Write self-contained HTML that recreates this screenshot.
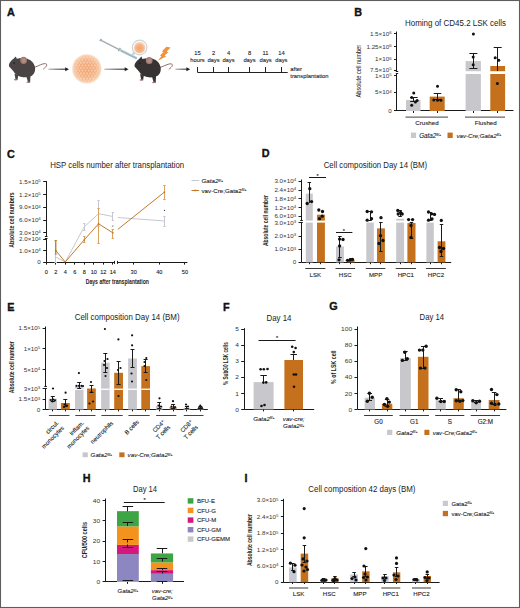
<!DOCTYPE html>
<html><head><meta charset="utf-8"><style>
html,body{margin:0;padding:0;background:#fff;width:520px;height:608px;overflow:hidden;}
svg{display:block;}
text{font-family:"Liberation Sans",sans-serif;}
</style></head><body>
<svg width="520" height="608" viewBox="0 0 520 608">
<rect x="0" y="0" width="520" height="608" fill="#fff"/>
<text x="7.00" y="15.80" font-family="Liberation Sans" font-size="10.8" text-anchor="start" font-weight="bold" font-style="normal" fill="#111" stroke="#111" stroke-width="0.35">A</text>
<g transform="translate(8.9,64.7) scale(1.0)"><path d="M24,3.2 C28,1.8 31,0.2 33.5,-0.6 C36,-1.4 38.2,-1.4 37.8,0.6 C37.5,2 36,3 34.6,4.3" stroke="#8a6f68" stroke-width="1.0" fill="none" stroke-linecap="round"/><path d="M5.6,9 L6.6,14.6 L5.2,15.3 L8.6,15.3 L9.4,10 Z" fill="#4b4444"/><path d="M17.2,10.5 L19,17.2 L17.6,17.9 L21.2,17.9 L21.6,10 Z" fill="#4b4444"/><ellipse cx="6.9" cy="15.0" rx="1.9" ry="0.7" fill="#9e7c72"/><ellipse cx="19.4" cy="17.6" rx="1.9" ry="0.7" fill="#9e7c72"/><path d="M0,0 C0.6,-2.2 2.4,-4.6 4.6,-6.0 L6.9,-8.3 L7.9,-5.9 C10.5,-6.6 14,-6.8 17,-6.3 C21,-5.6 24.5,-3 25.9,1.5 C27,5.5 25.5,9.5 22.5,11.2 C19,13 13,12.8 9.5,11.2 C7.5,10.3 5.8,8.5 4.5,6.6 C3.2,4.8 1.4,3.2 0.2,1.8 Z" fill="#4b4444"/><circle cx="5.2" cy="-1.6" r="0.8" fill="#1e1a1a"/><ellipse cx="14.7" cy="-4.4" rx="3.4" ry="3.6" fill="#9e7c72"/><ellipse cx="14.9" cy="-4.1" rx="2.0" ry="2.3" fill="#b38d84"/></g>
<defs><linearGradient id="ag1" gradientUnits="userSpaceOnUse" x1="48.5" y1="0" x2="69" y2="0"><stop offset="0" stop-color="#b0b0b0"/><stop offset="0.5" stop-color="#555"/><stop offset="1" stop-color="#222"/></linearGradient></defs>
<rect x="48.5" y="68.65" width="17.5" height="1.1" fill="url(#ag1)"/>
<path d="M65.2,67.2 L69,69.2 L65.2,71.2 Z" fill="#222"/>
<defs>
<radialGradient id="cb" cx="0.5" cy="0.5" r="0.5">
<stop offset="0" stop-color="#ee9c66"/><stop offset="0.6" stop-color="#f2ab7c"/><stop offset="0.85" stop-color="#f6c39e"/><stop offset="1" stop-color="#fbe2cf"/>
</radialGradient>
<pattern id="cells" x="0.3" y="0.4" width="3.1" height="5.3" patternUnits="userSpaceOnUse">
<circle cx="1.55" cy="1.3" r="1.05" fill="#fcd9bf" opacity="0.75"/>
<circle cx="0" cy="3.95" r="1.05" fill="#fcd9bf" opacity="0.75"/>
<circle cx="3.1" cy="3.95" r="1.05" fill="#fcd9bf" opacity="0.75"/>
</pattern>
</defs>
<circle cx="86.8" cy="68.9" r="14.6" fill="url(#cb)"/>
<circle cx="86.8" cy="68.9" r="13.8" fill="url(#cells)"/>
<defs><linearGradient id="ag2" gradientUnits="userSpaceOnUse" x1="104.4" y1="0" x2="128.5" y2="0"><stop offset="0" stop-color="#b0b0b0"/><stop offset="0.5" stop-color="#555"/><stop offset="1" stop-color="#222"/></linearGradient></defs>
<rect x="104.4" y="68.65" width="21.099999999999994" height="1.1" fill="url(#ag2)"/>
<path d="M124.7,67.2 L128.5,69.2 L124.7,71.2 Z" fill="#222"/>
<line x1="100.60" y1="40.20" x2="119.30" y2="49.60" stroke="#a3acb4" stroke-width="1.4" stroke-linecap="round"/>
<line x1="100.00" y1="41.20" x2="101.40" y2="38.80" stroke="#a3acb4" stroke-width="1.6" />
<line x1="118.40" y1="51.20" x2="120.40" y2="47.80" stroke="#98a4ae" stroke-width="1.3" />
<line x1="119.30" y1="49.60" x2="136.80" y2="58.40" stroke="#b9c8cf" stroke-width="2.6" />
<line x1="121.00" y1="50.80" x2="136.80" y2="58.60" stroke="#8fb0bd" stroke-width="0.9" />
<defs><radialGradient id="mg" cx="0.5" cy="0.55" r="0.5"><stop offset="0" stop-color="#f5a268"/><stop offset="0.7" stop-color="#f7b88c"/><stop offset="1" stop-color="#fbd9c0"/></radialGradient></defs>
<path d="M133.2,51.6 L131.6,55.6 L136.4,53.6 Z" fill="#b9d3dc"/>
<circle cx="139.6" cy="47.5" r="7.3" fill="#fdfcfb" stroke="#cfd5d9" stroke-width="1.2"/>
<circle cx="139.6" cy="47.6" r="5.8" fill="url(#mg)"/>
<g transform="translate(134.5,64.9) scale(1.0)"><path d="M24,3.2 C28,1.8 31,0.2 33.5,-0.6 C36,-1.4 38.2,-1.4 37.8,0.6 C37.5,2 36,3 34.6,4.3" stroke="#94706c" stroke-width="1.0" fill="none" stroke-linecap="round"/><path d="M5.6,9 L6.6,14.6 L5.2,15.3 L8.6,15.3 L9.4,10 Z" fill="#373333"/><path d="M17.2,10.5 L19,17.2 L17.6,17.9 L21.2,17.9 L21.6,10 Z" fill="#373333"/><ellipse cx="6.9" cy="15.0" rx="1.9" ry="0.7" fill="#a67b78"/><ellipse cx="19.4" cy="17.6" rx="1.9" ry="0.7" fill="#a67b78"/><path d="M0,0 C0.6,-2.2 2.4,-4.6 4.6,-6.0 L6.9,-8.3 L7.9,-5.9 C10.5,-6.6 14,-6.8 17,-6.3 C21,-5.6 24.5,-3 25.9,1.5 C27,5.5 25.5,9.5 22.5,11.2 C19,13 13,12.8 9.5,11.2 C7.5,10.3 5.8,8.5 4.5,6.6 C3.2,4.8 1.4,3.2 0.2,1.8 Z" fill="#373333"/><circle cx="5.2" cy="-1.6" r="0.8" fill="#1e1a1a"/><ellipse cx="14.7" cy="-4.4" rx="3.4" ry="3.6" fill="#a67b78"/><ellipse cx="14.9" cy="-4.1" rx="2.0" ry="2.3" fill="#b38d84"/></g>
<path d="M166.5,46.8 L170.6,47.6 L166.6,51.7 L168.4,52.3 L164.6,55.6 L166.2,56.4 L157.8,60.7 L161.4,56.2 L160.0,55.5 L163.5,52.0 L161.9,51.3 Z" fill="#f0923a"/>
<defs><linearGradient id="ag3" gradientUnits="userSpaceOnUse" x1="175.4" y1="0" x2="190.2" y2="0"><stop offset="0" stop-color="#b0b0b0"/><stop offset="0.5" stop-color="#555"/><stop offset="1" stop-color="#222"/></linearGradient></defs>
<rect x="175.4" y="68.65" width="11.799999999999983" height="1.1" fill="url(#ag3)"/>
<path d="M186.39999999999998,67.2 L190.2,69.2 L186.39999999999998,71.2 Z" fill="#222"/>
<line x1="197.50" y1="72.50" x2="287.70" y2="72.50" stroke="#222" stroke-width="1.0" />
<line x1="197.50" y1="67.00" x2="197.50" y2="72.30" stroke="#222" stroke-width="1.0" />
<text x="197.50" y="54.60" font-family="Liberation Sans" font-size="5.8" text-anchor="middle" font-weight="normal" font-style="normal" fill="#222"  stroke="#222" stroke-width="0.1">15</text>
<text x="197.50" y="61.90" font-family="Liberation Sans" font-size="5.8" text-anchor="middle" font-weight="normal" font-style="normal" fill="#222"  stroke="#222" stroke-width="0.1">hours</text>
<line x1="213.50" y1="67.00" x2="213.50" y2="72.30" stroke="#222" stroke-width="1.0" />
<text x="213.50" y="54.60" font-family="Liberation Sans" font-size="5.8" text-anchor="middle" font-weight="normal" font-style="normal" fill="#222"  stroke="#222" stroke-width="0.1">2</text>
<text x="213.50" y="61.90" font-family="Liberation Sans" font-size="5.8" text-anchor="middle" font-weight="normal" font-style="normal" fill="#222"  stroke="#222" stroke-width="0.1">days</text>
<line x1="228.50" y1="67.00" x2="228.50" y2="72.30" stroke="#222" stroke-width="1.0" />
<text x="228.50" y="54.60" font-family="Liberation Sans" font-size="5.8" text-anchor="middle" font-weight="normal" font-style="normal" fill="#222"  stroke="#222" stroke-width="0.1">4</text>
<text x="228.50" y="61.90" font-family="Liberation Sans" font-size="5.8" text-anchor="middle" font-weight="normal" font-style="normal" fill="#222"  stroke="#222" stroke-width="0.1">days</text>
<line x1="249.50" y1="67.00" x2="249.50" y2="72.30" stroke="#222" stroke-width="1.0" />
<text x="249.50" y="54.60" font-family="Liberation Sans" font-size="5.8" text-anchor="middle" font-weight="normal" font-style="normal" fill="#222"  stroke="#222" stroke-width="0.1">8</text>
<text x="249.50" y="61.90" font-family="Liberation Sans" font-size="5.8" text-anchor="middle" font-weight="normal" font-style="normal" fill="#222"  stroke="#222" stroke-width="0.1">days</text>
<line x1="265.50" y1="67.00" x2="265.50" y2="72.30" stroke="#222" stroke-width="1.0" />
<text x="265.60" y="54.60" font-family="Liberation Sans" font-size="5.8" text-anchor="middle" font-weight="normal" font-style="normal" fill="#222"  stroke="#222" stroke-width="0.1">11</text>
<text x="265.60" y="61.90" font-family="Liberation Sans" font-size="5.8" text-anchor="middle" font-weight="normal" font-style="normal" fill="#222"  stroke="#222" stroke-width="0.1">days</text>
<line x1="281.50" y1="67.00" x2="281.50" y2="72.30" stroke="#222" stroke-width="1.0" />
<text x="281.40" y="54.60" font-family="Liberation Sans" font-size="5.8" text-anchor="middle" font-weight="normal" font-style="normal" fill="#222"  stroke="#222" stroke-width="0.1">14</text>
<text x="281.40" y="61.90" font-family="Liberation Sans" font-size="5.8" text-anchor="middle" font-weight="normal" font-style="normal" fill="#222"  stroke="#222" stroke-width="0.1">days</text>
<text x="290.30" y="71.20" font-family="Liberation Sans" font-size="5.9" text-anchor="start" font-weight="normal" font-style="normal" fill="#222"  stroke="#222" stroke-width="0.1">after</text>
<text x="290.30" y="78.30" font-family="Liberation Sans" font-size="5.9" text-anchor="start" font-weight="normal" font-style="normal" fill="#222" textLength="38.3" lengthAdjust="spacingAndGlyphs"  stroke="#222" stroke-width="0.1">transplantation</text>
<text x="354.30" y="15.90" font-family="Liberation Sans" font-size="10.8" text-anchor="start" font-weight="bold" font-style="normal" fill="#111" stroke="#111" stroke-width="0.35">B</text>
<text x="405.00" y="25.70" font-family="Liberation Sans" font-size="8.5" text-anchor="start" font-weight="normal" font-style="normal" fill="#222" textLength="101" lengthAdjust="spacingAndGlyphs" >Homing of CD45.2 LSK cells</text>
<line x1="396.50" y1="31.50" x2="396.50" y2="71.60" stroke="#1a1a1a" stroke-width="1.0" />
<line x1="395.80" y1="71.50" x2="398.20" y2="71.50" stroke="#1a1a1a" stroke-width="1.0" />
<line x1="395.80" y1="73.50" x2="398.20" y2="73.50" stroke="#1a1a1a" stroke-width="1.0" />
<line x1="396.50" y1="73.80" x2="396.50" y2="111.00" stroke="#1a1a1a" stroke-width="1.0" />
<line x1="397.00" y1="110.50" x2="513.50" y2="110.50" stroke="#1a1a1a" stroke-width="1.0" />
<line x1="394.00" y1="33.50" x2="397.00" y2="33.50" stroke="#1a1a1a" stroke-width="1.0" />
<text x="0" y="0" transform="translate(391.60,35.71) scale(1.18,1)" font-family="Liberation Sans" font-size="5.3" text-anchor="end" font-weight="normal" font-style="normal" fill="#333" stroke="none">1.5×10<tspan dy="-0.45em" font-size="0.7em">6</tspan></text>
<line x1="394.00" y1="46.50" x2="397.00" y2="46.50" stroke="#1a1a1a" stroke-width="1.0" />
<text x="0" y="0" transform="translate(391.60,48.71) scale(1.18,1)" font-family="Liberation Sans" font-size="5.3" text-anchor="end" font-weight="normal" font-style="normal" fill="#333" stroke="none">1.25×10<tspan dy="-0.45em" font-size="0.7em">6</tspan></text>
<line x1="394.00" y1="59.50" x2="397.00" y2="59.50" stroke="#1a1a1a" stroke-width="1.0" />
<text x="0" y="0" transform="translate(391.60,61.31) scale(1.18,1)" font-family="Liberation Sans" font-size="5.3" text-anchor="end" font-weight="normal" font-style="normal" fill="#333" stroke="none">1×10<tspan dy="-0.45em" font-size="0.7em">6</tspan></text>
<line x1="394.00" y1="70.50" x2="397.00" y2="70.50" stroke="#1a1a1a" stroke-width="1.0" />
<text x="0" y="0" transform="translate(391.60,71.91) scale(1.18,1)" font-family="Liberation Sans" font-size="5.3" text-anchor="end" font-weight="normal" font-style="normal" fill="#333" stroke="none">7.5×10<tspan dy="-0.45em" font-size="0.7em">5</tspan></text>
<line x1="394.00" y1="75.50" x2="397.00" y2="75.50" stroke="#1a1a1a" stroke-width="1.0" />
<text x="0" y="0" transform="translate(391.60,77.51) scale(1.18,1)" font-family="Liberation Sans" font-size="5.3" text-anchor="end" font-weight="normal" font-style="normal" fill="#333" stroke="none">1×10<tspan dy="-0.45em" font-size="0.7em">5</tspan></text>
<line x1="394.00" y1="92.50" x2="397.00" y2="92.50" stroke="#1a1a1a" stroke-width="1.0" />
<text x="0" y="0" transform="translate(391.60,94.31) scale(1.18,1)" font-family="Liberation Sans" font-size="5.3" text-anchor="end" font-weight="normal" font-style="normal" fill="#333" stroke="none">5×10<tspan dy="-0.45em" font-size="0.7em">4</tspan></text>
<line x1="394.00" y1="110.50" x2="397.00" y2="110.50" stroke="#1a1a1a" stroke-width="1.0" />
<text x="0" y="0" transform="translate(391.60,112.91) scale(1.18,1)" font-family="Liberation Sans" font-size="5.3" text-anchor="end" font-weight="normal" font-style="normal" fill="#333" stroke="none">0</text>
<text x="0" y="0" transform="translate(358.7,71.2) rotate(-90) scale(1.0,1)" font-family="Liberation Sans" font-size="6.6" text-anchor="middle" font-weight="normal" fill="#222" textLength="52.5" lengthAdjust="spacingAndGlyphs" dy="0.35em">Absolute cell number</text>
<rect x="406.00" y="100.00" width="14.50" height="11.00" fill="#c8c8cc" />
<rect x="429.70" y="96.60" width="15.00" height="14.40" fill="#c4701c" />
<rect x="465.60" y="61.10" width="15.30" height="10.10" fill="#c8c8cc" />
<rect x="465.60" y="74.00" width="15.30" height="37.00" fill="#c8c8cc" />
<rect x="490.30" y="66.00" width="14.80" height="5.20" fill="#c4701c" />
<rect x="490.30" y="74.00" width="14.80" height="37.00" fill="#c4701c" />
<line x1="413.50" y1="97.30" x2="413.50" y2="101.60" stroke="#1a1a1a" stroke-width="1.0" />
<line x1="410.15" y1="97.50" x2="417.65" y2="97.50" stroke="#1a1a1a" stroke-width="1.0" />
<line x1="410.15" y1="101.50" x2="417.65" y2="101.50" stroke="#1a1a1a" stroke-width="1.0" />
<line x1="437.50" y1="93.30" x2="437.50" y2="99.50" stroke="#1a1a1a" stroke-width="1.0" />
<line x1="433.75" y1="93.50" x2="441.25" y2="93.50" stroke="#1a1a1a" stroke-width="1.0" />
<line x1="433.75" y1="99.50" x2="441.25" y2="99.50" stroke="#1a1a1a" stroke-width="1.0" />
<line x1="473.50" y1="53.30" x2="473.50" y2="68.50" stroke="#1a1a1a" stroke-width="1.0" />
<line x1="469.40" y1="53.50" x2="477.40" y2="53.50" stroke="#1a1a1a" stroke-width="1.0" />
<line x1="469.40" y1="68.50" x2="477.40" y2="68.50" stroke="#1a1a1a" stroke-width="1.0" />
<line x1="497.50" y1="47.10" x2="497.50" y2="71.00" stroke="#1a1a1a" stroke-width="1.0" />
<line x1="493.70" y1="47.50" x2="501.70" y2="47.50" stroke="#1a1a1a" stroke-width="1.0" />
<circle cx="413.75" cy="93.00" r="1.5" fill="#111"/>
<circle cx="411.70" cy="97.60" r="1.5" fill="#111"/>
<circle cx="417.10" cy="100.50" r="1.5" fill="#111"/>
<circle cx="415.40" cy="101.90" r="1.5" fill="#111"/>
<circle cx="411.70" cy="105.20" r="1.5" fill="#111"/>
<circle cx="437.50" cy="86.25" r="1.5" fill="#111"/>
<circle cx="433.80" cy="100.00" r="1.5" fill="#111"/>
<circle cx="437.50" cy="100.20" r="1.5" fill="#111"/>
<circle cx="440.90" cy="100.20" r="1.5" fill="#111"/>
<circle cx="473.40" cy="34.00" r="1.5" fill="#111"/>
<circle cx="473.20" cy="57.00" r="1.5" fill="#111"/>
<circle cx="473.20" cy="64.70" r="1.5" fill="#111"/>
<circle cx="495.20" cy="57.80" r="1.5" fill="#111"/>
<circle cx="498.80" cy="60.30" r="1.5" fill="#111"/>
<circle cx="497.40" cy="83.60" r="1.5" fill="#111"/>
<line x1="413.50" y1="111.00" x2="413.50" y2="113.00" stroke="#1a1a1a" stroke-width="1.0" />
<line x1="437.50" y1="111.00" x2="437.50" y2="113.00" stroke="#1a1a1a" stroke-width="1.0" />
<line x1="473.50" y1="111.00" x2="473.50" y2="113.00" stroke="#1a1a1a" stroke-width="1.0" />
<line x1="497.50" y1="111.00" x2="497.50" y2="113.00" stroke="#1a1a1a" stroke-width="1.0" />
<line x1="405.50" y1="117.20" x2="448.00" y2="117.20" stroke="#666" stroke-width="1.3" />
<line x1="465.00" y1="117.20" x2="505.00" y2="117.20" stroke="#666" stroke-width="1.3" />
<text x="427.00" y="125.10" font-family="Liberation Sans" font-size="6.2" text-anchor="middle" font-weight="normal" font-style="normal" fill="#222"  stroke="#222" stroke-width="0.1">Crushed</text>
<text x="485.70" y="125.10" font-family="Liberation Sans" font-size="6.2" text-anchor="middle" font-weight="normal" font-style="normal" fill="#222"  stroke="#222" stroke-width="0.1">Flushed</text>
<rect x="410.90" y="132.60" width="5.20" height="5.40" fill="#c8c8cc" />
<text x="419.20" y="137.50" font-family="Liberation Sans" font-size="6.3" text-anchor="start" font-weight="normal" font-style="italic" fill="#222"  stroke="#222" stroke-width="0.1">Gata2<tspan dy="-0.45em" font-size="0.55em">fl/+</tspan></text>
<rect x="447.50" y="132.60" width="5.20" height="5.40" fill="#c4701c" />
<text x="456.40" y="137.50" font-family="Liberation Sans" font-size="6.2" text-anchor="start" font-weight="normal" font-style="italic" fill="#222"  stroke="#222" stroke-width="0.1">vav-Cre;Gata2<tspan dy="-0.45em" font-size="0.55em">fl/+</tspan></text>
<text x="6.90" y="157.80" font-family="Liberation Sans" font-size="10.8" text-anchor="start" font-weight="bold" font-style="normal" fill="#111" stroke="#111" stroke-width="0.35">C</text>
<text x="50.20" y="167.60" font-family="Liberation Sans" font-size="8.5" text-anchor="start" font-weight="normal" font-style="normal" fill="#222" textLength="134" lengthAdjust="spacingAndGlyphs" >HSP cells number after transplantation</text>
<line x1="46.50" y1="181.00" x2="46.50" y2="236.60" stroke="#1a1a1a" stroke-width="1.0" />
<line x1="44.90" y1="236.50" x2="47.50" y2="236.50" stroke="#1a1a1a" stroke-width="1.0" />
<line x1="44.90" y1="238.50" x2="47.50" y2="238.50" stroke="#1a1a1a" stroke-width="1.0" />
<line x1="46.50" y1="238.60" x2="46.50" y2="262.40" stroke="#1a1a1a" stroke-width="1.0" />
<line x1="43.20" y1="181.50" x2="46.20" y2="181.50" stroke="#1a1a1a" stroke-width="1.0" />
<text x="0" y="0" transform="translate(40.80,183.81) scale(1.18,1)" font-family="Liberation Sans" font-size="5.3" text-anchor="end" font-weight="normal" font-style="normal" fill="#333" stroke="none">1.5×10<tspan dy="-0.45em" font-size="0.7em">5</tspan></text>
<line x1="43.20" y1="194.50" x2="46.20" y2="194.50" stroke="#1a1a1a" stroke-width="1.0" />
<text x="0" y="0" transform="translate(40.80,196.51) scale(1.18,1)" font-family="Liberation Sans" font-size="5.3" text-anchor="end" font-weight="normal" font-style="normal" fill="#333" stroke="none">1.2×10<tspan dy="-0.45em" font-size="0.7em">5</tspan></text>
<line x1="43.20" y1="207.50" x2="46.20" y2="207.50" stroke="#1a1a1a" stroke-width="1.0" />
<text x="0" y="0" transform="translate(40.80,209.21) scale(1.18,1)" font-family="Liberation Sans" font-size="5.3" text-anchor="end" font-weight="normal" font-style="normal" fill="#333" stroke="none">9.0×10<tspan dy="-0.45em" font-size="0.7em">4</tspan></text>
<line x1="43.20" y1="220.50" x2="46.20" y2="220.50" stroke="#1a1a1a" stroke-width="1.0" />
<text x="0" y="0" transform="translate(40.80,222.01) scale(1.18,1)" font-family="Liberation Sans" font-size="5.3" text-anchor="end" font-weight="normal" font-style="normal" fill="#333" stroke="none">6.0×10<tspan dy="-0.45em" font-size="0.7em">4</tspan></text>
<line x1="43.20" y1="232.50" x2="46.20" y2="232.50" stroke="#1a1a1a" stroke-width="1.0" />
<text x="0" y="0" transform="translate(40.80,234.71) scale(1.18,1)" font-family="Liberation Sans" font-size="5.3" text-anchor="end" font-weight="normal" font-style="normal" fill="#333" stroke="none">3.0×10<tspan dy="-0.45em" font-size="0.7em">4</tspan></text>
<line x1="43.20" y1="239.50" x2="46.20" y2="239.50" stroke="#1a1a1a" stroke-width="1.0" />
<text x="0" y="0" transform="translate(40.80,241.41) scale(1.18,1)" font-family="Liberation Sans" font-size="5.3" text-anchor="end" font-weight="normal" font-style="normal" fill="#333" stroke="none">2.0×10<tspan dy="-0.45em" font-size="0.7em">4</tspan></text>
<line x1="43.20" y1="250.50" x2="46.20" y2="250.50" stroke="#1a1a1a" stroke-width="1.0" />
<text x="0" y="0" transform="translate(40.80,252.51) scale(1.18,1)" font-family="Liberation Sans" font-size="5.3" text-anchor="end" font-weight="normal" font-style="normal" fill="#333" stroke="none">1.0×10<tspan dy="-0.45em" font-size="0.7em">4</tspan></text>
<line x1="43.20" y1="262.50" x2="46.20" y2="262.50" stroke="#1a1a1a" stroke-width="1.0" />
<text x="0" y="0" transform="translate(40.80,264.31) scale(1.18,1)" font-family="Liberation Sans" font-size="5.3" text-anchor="end" font-weight="normal" font-style="normal" fill="#333" stroke="none">0</text>
<line x1="46.20" y1="262.50" x2="114.60" y2="262.50" stroke="#1a1a1a" stroke-width="1.0" />
<line x1="117.60" y1="262.50" x2="187.40" y2="262.50" stroke="#1a1a1a" stroke-width="1.0" />
<line x1="114.50" y1="260.90" x2="114.50" y2="263.90" stroke="#1a1a1a" stroke-width="1.0" />
<line x1="117.50" y1="260.90" x2="117.50" y2="263.90" stroke="#1a1a1a" stroke-width="1.0" />
<line x1="46.50" y1="262.40" x2="46.50" y2="264.60" stroke="#1a1a1a" stroke-width="1.0" />
<text x="46.20" y="274.00" font-family="Liberation Sans" font-size="5.6" text-anchor="middle" font-weight="normal" font-style="normal" fill="#222"  stroke="#222" stroke-width="0.1">0</text>
<line x1="55.50" y1="262.40" x2="55.50" y2="264.60" stroke="#1a1a1a" stroke-width="1.0" />
<text x="55.72" y="274.00" font-family="Liberation Sans" font-size="5.6" text-anchor="middle" font-weight="normal" font-style="normal" fill="#222"  stroke="#222" stroke-width="0.1">2</text>
<line x1="65.50" y1="262.40" x2="65.50" y2="264.60" stroke="#1a1a1a" stroke-width="1.0" />
<text x="65.24" y="274.00" font-family="Liberation Sans" font-size="5.6" text-anchor="middle" font-weight="normal" font-style="normal" fill="#222"  stroke="#222" stroke-width="0.1">4</text>
<line x1="74.50" y1="262.40" x2="74.50" y2="264.60" stroke="#1a1a1a" stroke-width="1.0" />
<text x="74.76" y="274.00" font-family="Liberation Sans" font-size="5.6" text-anchor="middle" font-weight="normal" font-style="normal" fill="#222"  stroke="#222" stroke-width="0.1">6</text>
<line x1="84.50" y1="262.40" x2="84.50" y2="264.60" stroke="#1a1a1a" stroke-width="1.0" />
<text x="84.28" y="274.00" font-family="Liberation Sans" font-size="5.6" text-anchor="middle" font-weight="normal" font-style="normal" fill="#222"  stroke="#222" stroke-width="0.1">8</text>
<line x1="93.50" y1="262.40" x2="93.50" y2="264.60" stroke="#1a1a1a" stroke-width="1.0" />
<text x="93.80" y="274.00" font-family="Liberation Sans" font-size="5.6" text-anchor="middle" font-weight="normal" font-style="normal" fill="#222"  stroke="#222" stroke-width="0.1">10</text>
<line x1="103.50" y1="262.40" x2="103.50" y2="264.60" stroke="#1a1a1a" stroke-width="1.0" />
<text x="103.32" y="274.00" font-family="Liberation Sans" font-size="5.6" text-anchor="middle" font-weight="normal" font-style="normal" fill="#222"  stroke="#222" stroke-width="0.1">12</text>
<line x1="112.50" y1="262.40" x2="112.50" y2="264.60" stroke="#1a1a1a" stroke-width="1.0" />
<text x="112.84" y="274.00" font-family="Liberation Sans" font-size="5.6" text-anchor="middle" font-weight="normal" font-style="normal" fill="#222"  stroke="#222" stroke-width="0.1">14</text>
<line x1="133.50" y1="262.40" x2="133.50" y2="264.60" stroke="#1a1a1a" stroke-width="1.0" />
<text x="133.70" y="274.00" font-family="Liberation Sans" font-size="5.6" text-anchor="middle" font-weight="normal" font-style="normal" fill="#222"  stroke="#222" stroke-width="0.1">30</text>
<line x1="159.50" y1="262.40" x2="159.50" y2="264.60" stroke="#1a1a1a" stroke-width="1.0" />
<text x="159.30" y="274.00" font-family="Liberation Sans" font-size="5.6" text-anchor="middle" font-weight="normal" font-style="normal" fill="#222"  stroke="#222" stroke-width="0.1">40</text>
<line x1="184.50" y1="262.40" x2="184.50" y2="264.60" stroke="#1a1a1a" stroke-width="1.0" />
<text x="184.90" y="274.00" font-family="Liberation Sans" font-size="5.6" text-anchor="middle" font-weight="normal" font-style="normal" fill="#222"  stroke="#222" stroke-width="0.1">50</text>
<text x="85.70" y="283.90" font-family="Liberation Sans" font-size="7.2" text-anchor="start" font-weight="bold" font-style="normal" fill="#222" textLength="63.3" lengthAdjust="spacingAndGlyphs" >Days after transplantation</text>
<text x="0" y="0" transform="translate(11.2,220.1) rotate(-90) scale(1.0,1)" font-family="Liberation Sans" font-size="7.3" text-anchor="middle" font-weight="bold" fill="#222" textLength="55.2" lengthAdjust="spacingAndGlyphs" dy="0.35em">Absolute cell numbers</text>
<polyline points="55.72,257.00 65.24,262.00 84.28,226.80 98.56,213.70 112.84,216.50" stroke="#c6c9d2" stroke-width="1.0" fill="none" />
<polyline points="117.80,217.50 164.42,221.00" stroke="#c6c9d2" stroke-width="1.0" fill="none" />
<line x1="55.50" y1="254.00" x2="55.50" y2="262.00" stroke="#c6c9d2" stroke-width="1.0" />
<line x1="54.52" y1="254.50" x2="56.92" y2="254.50" stroke="#c6c9d2" stroke-width="1.0" />
<line x1="54.52" y1="262.50" x2="56.92" y2="262.50" stroke="#c6c9d2" stroke-width="1.0" />
<line x1="84.50" y1="223.50" x2="84.50" y2="230.50" stroke="#c6c9d2" stroke-width="1.0" />
<line x1="83.08" y1="223.50" x2="85.48" y2="223.50" stroke="#c6c9d2" stroke-width="1.0" />
<line x1="83.08" y1="230.50" x2="85.48" y2="230.50" stroke="#c6c9d2" stroke-width="1.0" />
<line x1="98.50" y1="200.60" x2="98.50" y2="226.80" stroke="#c6c9d2" stroke-width="1.0" />
<line x1="97.36" y1="200.50" x2="99.76" y2="200.50" stroke="#c6c9d2" stroke-width="1.0" />
<line x1="97.36" y1="226.50" x2="99.76" y2="226.50" stroke="#c6c9d2" stroke-width="1.0" />
<line x1="112.50" y1="212.00" x2="112.50" y2="221.00" stroke="#c6c9d2" stroke-width="1.0" />
<line x1="111.64" y1="212.50" x2="114.04" y2="212.50" stroke="#c6c9d2" stroke-width="1.0" />
<line x1="111.64" y1="220.50" x2="114.04" y2="220.50" stroke="#c6c9d2" stroke-width="1.0" />
<line x1="164.50" y1="216.00" x2="164.50" y2="226.40" stroke="#c6c9d2" stroke-width="1.0" />
<line x1="163.22" y1="216.50" x2="165.62" y2="216.50" stroke="#c6c9d2" stroke-width="1.0" />
<line x1="163.22" y1="226.50" x2="165.62" y2="226.50" stroke="#c6c9d2" stroke-width="1.0" />
<polyline points="55.72,250.50 65.24,262.00 84.28,239.80 98.56,223.80 112.84,232.80" stroke="#c0782c" stroke-width="1.0" fill="none" />
<polyline points="117.80,229.40 164.42,192.10" stroke="#c0782c" stroke-width="1.0" fill="none" />
<line x1="55.72" y1="240.30" x2="55.72" y2="254.50" stroke="#b8862e" stroke-width="1.4" />
<line x1="54.52" y1="240.50" x2="56.92" y2="240.50" stroke="#b8862e" stroke-width="1.0" />
<line x1="84.50" y1="237.00" x2="84.50" y2="243.00" stroke="#d9a25e" stroke-width="1.0" />
<line x1="83.08" y1="236.50" x2="85.48" y2="236.50" stroke="#d9a25e" stroke-width="1.0" />
<line x1="83.08" y1="242.50" x2="85.48" y2="242.50" stroke="#d9a25e" stroke-width="1.0" />
<line x1="98.50" y1="208.80" x2="98.50" y2="243.10" stroke="#d9a25e" stroke-width="1.0" />
<line x1="97.36" y1="208.50" x2="99.76" y2="208.50" stroke="#d9a25e" stroke-width="1.0" />
<line x1="97.36" y1="243.50" x2="99.76" y2="243.50" stroke="#d9a25e" stroke-width="1.0" />
<line x1="112.50" y1="229.20" x2="112.50" y2="239.00" stroke="#d9a25e" stroke-width="1.0" />
<line x1="111.64" y1="229.50" x2="114.04" y2="229.50" stroke="#d9a25e" stroke-width="1.0" />
<line x1="111.64" y1="238.50" x2="114.04" y2="238.50" stroke="#d9a25e" stroke-width="1.0" />
<line x1="164.50" y1="185.30" x2="164.50" y2="199.20" stroke="#d9a25e" stroke-width="1.0" />
<line x1="163.22" y1="185.50" x2="165.62" y2="185.50" stroke="#d9a25e" stroke-width="1.0" />
<line x1="163.22" y1="199.50" x2="165.62" y2="199.50" stroke="#d9a25e" stroke-width="1.0" />
<circle cx="55.72" cy="250.50" r="0.9" fill="#c0782c"/>
<circle cx="84.28" cy="239.80" r="0.9" fill="#c0782c"/>
<circle cx="98.56" cy="223.80" r="0.9" fill="#c0782c"/>
<circle cx="112.84" cy="232.80" r="0.9" fill="#c0782c"/>
<circle cx="164.42" cy="192.10" r="0.9" fill="#c0782c"/>
<circle cx="112.84" cy="226.00" r="0.6" fill="#222"/>
<circle cx="164.42" cy="210.30" r="0.6" fill="#222"/>
<line x1="191.50" y1="180.50" x2="199.20" y2="180.50" stroke="#c6c9d2" stroke-width="1.0" />
<text x="201.50" y="183.20" font-family="Liberation Sans" font-size="6.2" text-anchor="start" font-weight="normal" font-style="italic" fill="#222"  stroke="#222" stroke-width="0.1">Gata2<tspan dy="-0.45em" font-size="0.55em">fl/+</tspan></text>
<line x1="191.50" y1="190.50" x2="199.20" y2="190.50" stroke="#c0782c" stroke-width="1.0" />
<circle cx="195.30" cy="190.40" r="0.9" fill="#c0782c"/>
<text x="201.50" y="192.80" font-family="Liberation Sans" font-size="6.2" text-anchor="start" font-weight="normal" font-style="normal" fill="#222"  stroke="#222" stroke-width="0.1">vav-Cre;Gata2<tspan dy="-0.45em" font-size="0.55em">fl/+</tspan></text>
<text x="261.70" y="157.30" font-family="Liberation Sans" font-size="10.8" text-anchor="start" font-weight="bold" font-style="normal" fill="#111" stroke="#111" stroke-width="0.35">D</text>
<text x="323.70" y="168.00" font-family="Liberation Sans" font-size="8.5" text-anchor="start" font-weight="normal" font-style="normal" fill="#222" textLength="103.5" lengthAdjust="spacingAndGlyphs" >Cell composition Day 14 (BM)</text>
<line x1="301.50" y1="179.50" x2="301.50" y2="220.30" stroke="#1a1a1a" stroke-width="1.0" />
<line x1="300.20" y1="220.50" x2="302.80" y2="220.50" stroke="#1a1a1a" stroke-width="1.0" />
<line x1="300.20" y1="222.50" x2="302.80" y2="222.50" stroke="#1a1a1a" stroke-width="1.0" />
<line x1="301.50" y1="222.30" x2="301.50" y2="262.40" stroke="#1a1a1a" stroke-width="1.0" />
<line x1="301.50" y1="262.50" x2="451.20" y2="262.50" stroke="#1a1a1a" stroke-width="1.0" />
<line x1="298.50" y1="181.50" x2="301.50" y2="181.50" stroke="#1a1a1a" stroke-width="1.0" />
<text x="0" y="0" transform="translate(296.10,183.11) scale(1.18,1)" font-family="Liberation Sans" font-size="5.3" text-anchor="end" font-weight="normal" font-style="normal" fill="#333" stroke="none">3.0×10<tspan dy="-0.45em" font-size="0.7em">4</tspan></text>
<line x1="298.50" y1="190.50" x2="301.50" y2="190.50" stroke="#1a1a1a" stroke-width="1.0" />
<text x="0" y="0" transform="translate(296.10,191.91) scale(1.18,1)" font-family="Liberation Sans" font-size="5.3" text-anchor="end" font-weight="normal" font-style="normal" fill="#333" stroke="none">2.4×10<tspan dy="-0.45em" font-size="0.7em">4</tspan></text>
<line x1="298.50" y1="198.50" x2="301.50" y2="198.50" stroke="#1a1a1a" stroke-width="1.0" />
<text x="0" y="0" transform="translate(296.10,200.71) scale(1.18,1)" font-family="Liberation Sans" font-size="5.3" text-anchor="end" font-weight="normal" font-style="normal" fill="#333" stroke="none">1.8×10<tspan dy="-0.45em" font-size="0.7em">4</tspan></text>
<line x1="298.50" y1="207.50" x2="301.50" y2="207.50" stroke="#1a1a1a" stroke-width="1.0" />
<text x="0" y="0" transform="translate(296.10,209.61) scale(1.18,1)" font-family="Liberation Sans" font-size="5.3" text-anchor="end" font-weight="normal" font-style="normal" fill="#333" stroke="none">1.2×10<tspan dy="-0.45em" font-size="0.7em">4</tspan></text>
<line x1="298.50" y1="216.50" x2="301.50" y2="216.50" stroke="#1a1a1a" stroke-width="1.0" />
<text x="0" y="0" transform="translate(296.10,218.41) scale(1.18,1)" font-family="Liberation Sans" font-size="5.3" text-anchor="end" font-weight="normal" font-style="normal" fill="#333" stroke="none">6.0×10<tspan dy="-0.45em" font-size="0.7em">3</tspan></text>
<line x1="298.50" y1="222.50" x2="301.50" y2="222.50" stroke="#1a1a1a" stroke-width="1.0" />
<text x="0" y="0" transform="translate(296.10,224.91) scale(1.18,1)" font-family="Liberation Sans" font-size="5.3" text-anchor="end" font-weight="normal" font-style="normal" fill="#333" stroke="none">3.0×10<tspan dy="-0.45em" font-size="0.7em">3</tspan></text>
<line x1="298.50" y1="236.50" x2="301.50" y2="236.50" stroke="#1a1a1a" stroke-width="1.0" />
<text x="0" y="0" transform="translate(296.10,237.91) scale(1.18,1)" font-family="Liberation Sans" font-size="5.3" text-anchor="end" font-weight="normal" font-style="normal" fill="#333" stroke="none">2.0×10<tspan dy="-0.45em" font-size="0.7em">3</tspan></text>
<line x1="298.50" y1="249.50" x2="301.50" y2="249.50" stroke="#1a1a1a" stroke-width="1.0" />
<text x="0" y="0" transform="translate(296.10,251.21) scale(1.18,1)" font-family="Liberation Sans" font-size="5.3" text-anchor="end" font-weight="normal" font-style="normal" fill="#333" stroke="none">1.0×10<tspan dy="-0.45em" font-size="0.7em">3</tspan></text>
<line x1="298.50" y1="262.50" x2="301.50" y2="262.50" stroke="#1a1a1a" stroke-width="1.0" />
<text x="0" y="0" transform="translate(296.10,264.31) scale(1.18,1)" font-family="Liberation Sans" font-size="5.3" text-anchor="end" font-weight="normal" font-style="normal" fill="#333" stroke="none">0</text>
<text x="0" y="0" transform="translate(265.2,220.6) rotate(-90) scale(1.0,1)" font-family="Liberation Sans" font-size="7.0" text-anchor="middle" font-weight="bold" fill="#222" textLength="51" lengthAdjust="spacingAndGlyphs" dy="0.35em">Absolute cell number</text>
<rect x="305.80" y="193.60" width="7.00" height="27.00" fill="#c8c8cc" />
<rect x="305.80" y="222.60" width="7.00" height="39.80" fill="#c8c8cc" />
<rect x="317.00" y="214.70" width="7.90" height="5.90" fill="#c4701c" />
<rect x="317.00" y="222.60" width="7.90" height="39.80" fill="#c4701c" />
<line x1="309.50" y1="262.40" x2="309.50" y2="264.20" stroke="#1a1a1a" stroke-width="1.0" />
<line x1="320.50" y1="262.40" x2="320.50" y2="264.20" stroke="#1a1a1a" stroke-width="1.0" />
<line x1="305.30" y1="268.50" x2="325.40" y2="268.50" stroke="#3a3a3a" stroke-width="1.0" />
<text x="315.35" y="277.20" font-family="Liberation Sans" font-size="6.1" text-anchor="middle" font-weight="normal" font-style="normal" fill="#222"  stroke="#222" stroke-width="0.1">LSK</text>
<rect x="336.00" y="246.50" width="7.90" height="15.90" fill="#c8c8cc" />
<rect x="347.00" y="260.20" width="7.60" height="2.20" fill="#c4701c" />
<line x1="339.50" y1="262.40" x2="339.50" y2="264.20" stroke="#1a1a1a" stroke-width="1.0" />
<line x1="350.50" y1="262.40" x2="350.50" y2="264.20" stroke="#1a1a1a" stroke-width="1.0" />
<line x1="335.50" y1="268.50" x2="355.10" y2="268.50" stroke="#3a3a3a" stroke-width="1.0" />
<text x="345.30" y="277.20" font-family="Liberation Sans" font-size="6.1" text-anchor="middle" font-weight="normal" font-style="normal" fill="#222"  stroke="#222" stroke-width="0.1">HSC</text>
<rect x="366.30" y="222.60" width="7.50" height="39.80" fill="#c8c8cc" />
<rect x="377.00" y="228.40" width="7.90" height="34.00" fill="#c4701c" />
<line x1="370.50" y1="262.40" x2="370.50" y2="264.20" stroke="#1a1a1a" stroke-width="1.0" />
<line x1="380.50" y1="262.40" x2="380.50" y2="264.20" stroke="#1a1a1a" stroke-width="1.0" />
<line x1="365.80" y1="268.50" x2="385.40" y2="268.50" stroke="#3a3a3a" stroke-width="1.0" />
<text x="375.60" y="277.20" font-family="Liberation Sans" font-size="6.1" text-anchor="middle" font-weight="normal" font-style="normal" fill="#222"  stroke="#222" stroke-width="0.1">MPP</text>
<rect x="396.20" y="218.80" width="7.90" height="1.80" fill="#c8c8cc" />
<rect x="396.20" y="222.60" width="7.90" height="39.80" fill="#c8c8cc" />
<rect x="407.40" y="223.00" width="8.10" height="39.40" fill="#c4701c" />
<line x1="400.50" y1="262.40" x2="400.50" y2="264.20" stroke="#1a1a1a" stroke-width="1.0" />
<line x1="411.50" y1="262.40" x2="411.50" y2="264.20" stroke="#1a1a1a" stroke-width="1.0" />
<line x1="395.70" y1="268.50" x2="416.00" y2="268.50" stroke="#3a3a3a" stroke-width="1.0" />
<text x="405.85" y="277.20" font-family="Liberation Sans" font-size="6.1" text-anchor="middle" font-weight="normal" font-style="normal" fill="#222"  stroke="#222" stroke-width="0.1">HPC1</text>
<rect x="426.40" y="222.60" width="7.40" height="39.80" fill="#c8c8cc" />
<rect x="437.60" y="241.30" width="7.80" height="21.10" fill="#c4701c" />
<line x1="430.50" y1="262.40" x2="430.50" y2="264.20" stroke="#1a1a1a" stroke-width="1.0" />
<line x1="441.50" y1="262.40" x2="441.50" y2="264.20" stroke="#1a1a1a" stroke-width="1.0" />
<line x1="425.90" y1="268.50" x2="445.90" y2="268.50" stroke="#3a3a3a" stroke-width="1.0" />
<text x="435.90" y="277.20" font-family="Liberation Sans" font-size="6.1" text-anchor="middle" font-weight="normal" font-style="normal" fill="#222"  stroke="#222" stroke-width="0.1">HPC2</text>
<line x1="309.50" y1="182.40" x2="309.50" y2="203.00" stroke="#1a1a1a" stroke-width="1.0" />
<line x1="307.55" y1="182.50" x2="311.05" y2="182.50" stroke="#1a1a1a" stroke-width="1.0" />
<line x1="339.50" y1="236.30" x2="339.50" y2="257.50" stroke="#1a1a1a" stroke-width="1.0" />
<line x1="338.15" y1="236.50" x2="341.65" y2="236.50" stroke="#1a1a1a" stroke-width="1.0" />
<line x1="338.15" y1="257.50" x2="341.65" y2="257.50" stroke="#1a1a1a" stroke-width="1.0" />
<line x1="350.50" y1="259.00" x2="350.50" y2="261.00" stroke="#1a1a1a" stroke-width="1.0" />
<line x1="349.30" y1="258.50" x2="352.30" y2="258.50" stroke="#1a1a1a" stroke-width="1.0" />
<line x1="349.30" y1="260.50" x2="352.30" y2="260.50" stroke="#1a1a1a" stroke-width="1.0" />
<line x1="370.50" y1="211.50" x2="370.50" y2="220.50" stroke="#1a1a1a" stroke-width="1.0" />
<line x1="368.25" y1="211.50" x2="371.75" y2="211.50" stroke="#1a1a1a" stroke-width="1.0" />
<line x1="368.25" y1="220.50" x2="371.75" y2="220.50" stroke="#1a1a1a" stroke-width="1.0" />
<line x1="380.50" y1="222.00" x2="380.50" y2="251.90" stroke="#1a1a1a" stroke-width="1.0" />
<line x1="379.15" y1="222.50" x2="382.65" y2="222.50" stroke="#1a1a1a" stroke-width="1.0" />
<line x1="379.15" y1="251.50" x2="382.65" y2="251.50" stroke="#1a1a1a" stroke-width="1.0" />
<line x1="400.50" y1="211.00" x2="400.50" y2="216.00" stroke="#1a1a1a" stroke-width="1.0" />
<line x1="398.35" y1="210.50" x2="401.85" y2="210.50" stroke="#1a1a1a" stroke-width="1.0" />
<line x1="398.35" y1="216.50" x2="401.85" y2="216.50" stroke="#1a1a1a" stroke-width="1.0" />
<line x1="411.50" y1="223.00" x2="411.50" y2="238.00" stroke="#1a1a1a" stroke-width="1.0" />
<line x1="409.65" y1="222.50" x2="413.15" y2="222.50" stroke="#1a1a1a" stroke-width="1.0" />
<line x1="409.65" y1="238.50" x2="413.15" y2="238.50" stroke="#1a1a1a" stroke-width="1.0" />
<line x1="430.50" y1="212.00" x2="430.50" y2="220.00" stroke="#1a1a1a" stroke-width="1.0" />
<line x1="428.35" y1="212.50" x2="431.85" y2="212.50" stroke="#1a1a1a" stroke-width="1.0" />
<line x1="428.35" y1="220.50" x2="431.85" y2="220.50" stroke="#1a1a1a" stroke-width="1.0" />
<line x1="441.50" y1="224.50" x2="441.50" y2="256.60" stroke="#1a1a1a" stroke-width="1.0" />
<line x1="439.75" y1="224.50" x2="443.25" y2="224.50" stroke="#1a1a1a" stroke-width="1.0" />
<line x1="439.75" y1="256.50" x2="443.25" y2="256.50" stroke="#1a1a1a" stroke-width="1.0" />
<circle cx="309.80" cy="188.70" r="1.65" fill="#111"/>
<circle cx="307.20" cy="203.50" r="1.65" fill="#111"/>
<circle cx="311.60" cy="201.60" r="1.65" fill="#111"/>
<circle cx="318.80" cy="210.00" r="1.65" fill="#111"/>
<circle cx="322.50" cy="211.50" r="1.65" fill="#111"/>
<circle cx="319.50" cy="218.70" r="1.65" fill="#111"/>
<circle cx="322.20" cy="216.20" r="1.65" fill="#111"/>
<circle cx="339.60" cy="239.10" r="1.65" fill="#111"/>
<circle cx="343.00" cy="239.50" r="1.65" fill="#111"/>
<circle cx="339.60" cy="246.00" r="1.65" fill="#111"/>
<circle cx="339.00" cy="259.80" r="1.65" fill="#111"/>
<circle cx="347.50" cy="260.30" r="1.65" fill="#111"/>
<circle cx="350.00" cy="260.00" r="1.65" fill="#111"/>
<circle cx="352.50" cy="259.50" r="1.65" fill="#111"/>
<circle cx="367.20" cy="211.50" r="1.65" fill="#111"/>
<circle cx="371.50" cy="211.80" r="1.65" fill="#111"/>
<circle cx="367.20" cy="220.20" r="1.65" fill="#111"/>
<circle cx="371.50" cy="218.70" r="1.65" fill="#111"/>
<circle cx="381.00" cy="217.70" r="1.65" fill="#111"/>
<circle cx="380.50" cy="235.70" r="1.65" fill="#111"/>
<circle cx="383.00" cy="240.50" r="1.65" fill="#111"/>
<circle cx="379.00" cy="243.50" r="1.65" fill="#111"/>
<circle cx="397.80" cy="210.50" r="1.65" fill="#111"/>
<circle cx="400.60" cy="212.50" r="1.65" fill="#111"/>
<circle cx="398.20" cy="214.00" r="1.65" fill="#111"/>
<circle cx="402.20" cy="214.00" r="1.65" fill="#111"/>
<circle cx="408.60" cy="219.60" r="1.65" fill="#111"/>
<circle cx="412.60" cy="219.60" r="1.65" fill="#111"/>
<circle cx="411.00" cy="225.50" r="1.65" fill="#111"/>
<circle cx="411.00" cy="237.30" r="1.65" fill="#111"/>
<circle cx="428.50" cy="212.00" r="1.65" fill="#111"/>
<circle cx="431.70" cy="213.80" r="1.65" fill="#111"/>
<circle cx="434.50" cy="214.40" r="1.65" fill="#111"/>
<circle cx="428.50" cy="220.20" r="1.65" fill="#111"/>
<circle cx="432.00" cy="219.00" r="1.65" fill="#111"/>
<circle cx="441.30" cy="220.40" r="1.65" fill="#111"/>
<circle cx="439.50" cy="247.50" r="1.65" fill="#111"/>
<circle cx="443.50" cy="248.50" r="1.65" fill="#111"/>
<circle cx="441.00" cy="251.50" r="1.65" fill="#111"/>
<line x1="309.00" y1="177.50" x2="326.00" y2="177.50" stroke="#1a1a1a" stroke-width="1.0" />
<text x="317.60" y="177.60" font-family="Liberation Sans" font-size="5.5" text-anchor="middle" font-weight="normal" font-style="normal" fill="#111"  stroke="#111" stroke-width="0.1">*</text>
<line x1="336.00" y1="232.50" x2="352.40" y2="232.50" stroke="#1a1a1a" stroke-width="1.0" />
<text x="343.90" y="233.00" font-family="Liberation Sans" font-size="5.5" text-anchor="middle" font-weight="normal" font-style="normal" fill="#111"  stroke="#111" stroke-width="0.1">*</text>
<text x="7.30" y="310.60" font-family="Liberation Sans" font-size="10.8" text-anchor="start" font-weight="bold" font-style="normal" fill="#111" stroke="#111" stroke-width="0.35">E</text>
<text x="74.70" y="320.40" font-family="Liberation Sans" font-size="8.5" text-anchor="start" font-weight="normal" font-style="normal" fill="#222" textLength="104.9" lengthAdjust="spacingAndGlyphs" >Cell composition Day 14 (BM)</text>
<line x1="45.50" y1="326.50" x2="45.50" y2="386.60" stroke="#1a1a1a" stroke-width="1.0" />
<line x1="44.30" y1="386.50" x2="46.90" y2="386.50" stroke="#1a1a1a" stroke-width="1.0" />
<line x1="44.30" y1="388.50" x2="46.90" y2="388.50" stroke="#1a1a1a" stroke-width="1.0" />
<line x1="45.50" y1="388.60" x2="45.50" y2="409.60" stroke="#1a1a1a" stroke-width="1.0" />
<line x1="45.60" y1="409.50" x2="207.80" y2="409.50" stroke="#1a1a1a" stroke-width="1.0" />
<line x1="42.60" y1="328.50" x2="45.60" y2="328.50" stroke="#1a1a1a" stroke-width="1.0" />
<text x="0" y="0" transform="translate(40.20,330.31) scale(1.18,1)" font-family="Liberation Sans" font-size="5.3" text-anchor="end" font-weight="normal" font-style="normal" fill="#333" stroke="none">1.5×10<tspan dy="-0.45em" font-size="0.7em">5</tspan></text>
<line x1="42.60" y1="348.50" x2="45.60" y2="348.50" stroke="#1a1a1a" stroke-width="1.0" />
<text x="0" y="0" transform="translate(40.20,350.71) scale(1.18,1)" font-family="Liberation Sans" font-size="5.3" text-anchor="end" font-weight="normal" font-style="normal" fill="#333" stroke="none">1×10<tspan dy="-0.45em" font-size="0.7em">5</tspan></text>
<line x1="42.60" y1="369.50" x2="45.60" y2="369.50" stroke="#1a1a1a" stroke-width="1.0" />
<text x="0" y="0" transform="translate(40.20,371.51) scale(1.18,1)" font-family="Liberation Sans" font-size="5.3" text-anchor="end" font-weight="normal" font-style="normal" fill="#333" stroke="none">5×10<tspan dy="-0.45em" font-size="0.7em">4</tspan></text>
<line x1="42.60" y1="388.50" x2="45.60" y2="388.50" stroke="#1a1a1a" stroke-width="1.0" />
<text x="0" y="0" transform="translate(40.20,390.71) scale(1.18,1)" font-family="Liberation Sans" font-size="5.3" text-anchor="end" font-weight="normal" font-style="normal" fill="#333" stroke="none">3×10<tspan dy="-0.45em" font-size="0.7em">3</tspan></text>
<line x1="42.60" y1="399.50" x2="45.60" y2="399.50" stroke="#1a1a1a" stroke-width="1.0" />
<text x="0" y="0" transform="translate(40.20,401.21) scale(1.18,1)" font-family="Liberation Sans" font-size="5.3" text-anchor="end" font-weight="normal" font-style="normal" fill="#333" stroke="none">1.5×10<tspan dy="-0.45em" font-size="0.7em">3</tspan></text>
<line x1="42.60" y1="409.50" x2="45.60" y2="409.50" stroke="#1a1a1a" stroke-width="1.0" />
<text x="0" y="0" transform="translate(40.20,411.51) scale(1.18,1)" font-family="Liberation Sans" font-size="5.3" text-anchor="end" font-weight="normal" font-style="normal" fill="#333" stroke="none">0</text>
<text x="0" y="0" transform="translate(11.2,367.2) rotate(-90) scale(1.0,1)" font-family="Liberation Sans" font-size="7.0" text-anchor="middle" font-weight="bold" fill="#222" textLength="52" lengthAdjust="spacingAndGlyphs" dy="0.35em">Absolute cell number</text>
<rect x="48.60" y="398.70" width="8.40" height="10.90" fill="#c8c8cc" />
<rect x="60.90" y="403.00" width="8.90" height="6.60" fill="#c4701c" />
<line x1="52.50" y1="409.60" x2="52.50" y2="411.40" stroke="#1a1a1a" stroke-width="1.0" />
<line x1="65.50" y1="409.60" x2="65.50" y2="411.40" stroke="#1a1a1a" stroke-width="1.0" />
<line x1="48.90" y1="415.50" x2="69.50" y2="415.50" stroke="#444" stroke-width="1.0" />
<rect x="75.00" y="385.80" width="8.50" height="23.80" fill="#c8c8cc" />
<rect x="75.00" y="388.60" width="8.50" height="1.30" fill="#ffffff" />
<rect x="87.10" y="388.50" width="8.70" height="21.10" fill="#c4701c" />
<line x1="79.50" y1="409.60" x2="79.50" y2="411.40" stroke="#1a1a1a" stroke-width="1.0" />
<line x1="91.50" y1="409.60" x2="91.50" y2="411.40" stroke="#1a1a1a" stroke-width="1.0" />
<line x1="75.30" y1="415.50" x2="95.50" y2="415.50" stroke="#444" stroke-width="1.0" />
<rect x="101.10" y="362.70" width="8.50" height="46.90" fill="#c8c8cc" />
<rect x="101.10" y="388.60" width="8.50" height="1.30" fill="#ffffff" />
<rect x="114.20" y="372.80" width="8.80" height="36.80" fill="#c4701c" />
<rect x="114.20" y="388.60" width="8.80" height="1.30" fill="#ffffff" />
<line x1="105.50" y1="409.60" x2="105.50" y2="411.40" stroke="#1a1a1a" stroke-width="1.0" />
<line x1="118.50" y1="409.60" x2="118.50" y2="411.40" stroke="#1a1a1a" stroke-width="1.0" />
<line x1="101.40" y1="415.50" x2="122.70" y2="415.50" stroke="#444" stroke-width="1.0" />
<rect x="128.10" y="358.50" width="8.80" height="51.10" fill="#c8c8cc" />
<rect x="128.10" y="388.60" width="8.80" height="1.30" fill="#ffffff" />
<rect x="141.30" y="366.10" width="8.70" height="43.50" fill="#c4701c" />
<rect x="141.30" y="388.60" width="8.70" height="1.30" fill="#ffffff" />
<line x1="132.50" y1="409.60" x2="132.50" y2="411.40" stroke="#1a1a1a" stroke-width="1.0" />
<line x1="145.50" y1="409.60" x2="145.50" y2="411.40" stroke="#1a1a1a" stroke-width="1.0" />
<line x1="128.40" y1="415.50" x2="149.70" y2="415.50" stroke="#444" stroke-width="1.0" />
<rect x="155.80" y="406.00" width="6.80" height="3.60" fill="#c8c8cc" />
<rect x="169.70" y="407.00" width="6.90" height="2.60" fill="#c4701c" />
<line x1="159.50" y1="409.60" x2="159.50" y2="411.40" stroke="#1a1a1a" stroke-width="1.0" />
<line x1="173.50" y1="409.60" x2="173.50" y2="411.40" stroke="#1a1a1a" stroke-width="1.0" />
<line x1="156.10" y1="415.50" x2="176.30" y2="415.50" stroke="#444" stroke-width="1.0" />
<rect x="183.50" y="407.80" width="6.80" height="1.80" fill="#c8c8cc" />
<rect x="197.00" y="408.30" width="6.80" height="1.30" fill="#c4701c" />
<line x1="186.50" y1="409.60" x2="186.50" y2="411.40" stroke="#1a1a1a" stroke-width="1.0" />
<line x1="200.50" y1="409.60" x2="200.50" y2="411.40" stroke="#1a1a1a" stroke-width="1.0" />
<line x1="183.80" y1="415.50" x2="203.50" y2="415.50" stroke="#444" stroke-width="1.0" />
<line x1="52.50" y1="396.00" x2="52.50" y2="401.50" stroke="#1a1a1a" stroke-width="1.0" />
<line x1="50.80" y1="396.50" x2="54.80" y2="396.50" stroke="#1a1a1a" stroke-width="1.0" />
<line x1="50.80" y1="401.50" x2="54.80" y2="401.50" stroke="#1a1a1a" stroke-width="1.0" />
<line x1="65.50" y1="399.50" x2="65.50" y2="406.50" stroke="#1a1a1a" stroke-width="1.0" />
<line x1="63.30" y1="399.50" x2="67.30" y2="399.50" stroke="#1a1a1a" stroke-width="1.0" />
<line x1="63.30" y1="406.50" x2="67.30" y2="406.50" stroke="#1a1a1a" stroke-width="1.0" />
<line x1="79.50" y1="382.50" x2="79.50" y2="389.00" stroke="#1a1a1a" stroke-width="1.0" />
<line x1="77.20" y1="382.50" x2="81.20" y2="382.50" stroke="#1a1a1a" stroke-width="1.0" />
<line x1="77.20" y1="388.50" x2="81.20" y2="388.50" stroke="#1a1a1a" stroke-width="1.0" />
<line x1="91.50" y1="385.20" x2="91.50" y2="392.00" stroke="#1a1a1a" stroke-width="1.0" />
<line x1="89.50" y1="385.50" x2="93.50" y2="385.50" stroke="#1a1a1a" stroke-width="1.0" />
<line x1="89.50" y1="392.50" x2="93.50" y2="392.50" stroke="#1a1a1a" stroke-width="1.0" />
<line x1="105.50" y1="353.40" x2="105.50" y2="372.00" stroke="#1a1a1a" stroke-width="1.0" />
<line x1="103.30" y1="353.50" x2="107.30" y2="353.50" stroke="#1a1a1a" stroke-width="1.0" />
<line x1="103.30" y1="372.50" x2="107.30" y2="372.50" stroke="#1a1a1a" stroke-width="1.0" />
<line x1="118.50" y1="361.30" x2="118.50" y2="384.00" stroke="#1a1a1a" stroke-width="1.0" />
<line x1="116.60" y1="361.50" x2="120.60" y2="361.50" stroke="#1a1a1a" stroke-width="1.0" />
<line x1="116.60" y1="384.50" x2="120.60" y2="384.50" stroke="#1a1a1a" stroke-width="1.0" />
<line x1="132.50" y1="349.30" x2="132.50" y2="367.50" stroke="#1a1a1a" stroke-width="1.0" />
<line x1="130.50" y1="349.50" x2="134.50" y2="349.50" stroke="#1a1a1a" stroke-width="1.0" />
<line x1="130.50" y1="367.50" x2="134.50" y2="367.50" stroke="#1a1a1a" stroke-width="1.0" />
<line x1="145.50" y1="359.20" x2="145.50" y2="373.00" stroke="#1a1a1a" stroke-width="1.0" />
<line x1="143.60" y1="359.50" x2="147.60" y2="359.50" stroke="#1a1a1a" stroke-width="1.0" />
<line x1="143.60" y1="372.50" x2="147.60" y2="372.50" stroke="#1a1a1a" stroke-width="1.0" />
<line x1="159.50" y1="403.00" x2="159.50" y2="409.00" stroke="#1a1a1a" stroke-width="1.0" />
<line x1="157.20" y1="402.50" x2="161.20" y2="402.50" stroke="#1a1a1a" stroke-width="1.0" />
<line x1="157.20" y1="408.50" x2="161.20" y2="408.50" stroke="#1a1a1a" stroke-width="1.0" />
<line x1="173.50" y1="404.00" x2="173.50" y2="409.00" stroke="#1a1a1a" stroke-width="1.0" />
<line x1="171.10" y1="404.50" x2="175.10" y2="404.50" stroke="#1a1a1a" stroke-width="1.0" />
<line x1="171.10" y1="408.50" x2="175.10" y2="408.50" stroke="#1a1a1a" stroke-width="1.0" />
<line x1="186.50" y1="406.00" x2="186.50" y2="409.00" stroke="#1a1a1a" stroke-width="1.0" />
<line x1="184.90" y1="406.50" x2="188.90" y2="406.50" stroke="#1a1a1a" stroke-width="1.0" />
<line x1="184.90" y1="408.50" x2="188.90" y2="408.50" stroke="#1a1a1a" stroke-width="1.0" />
<line x1="200.50" y1="406.50" x2="200.50" y2="409.00" stroke="#1a1a1a" stroke-width="1.0" />
<line x1="198.40" y1="406.50" x2="202.40" y2="406.50" stroke="#1a1a1a" stroke-width="1.0" />
<line x1="198.40" y1="408.50" x2="202.40" y2="408.50" stroke="#1a1a1a" stroke-width="1.0" />
<circle cx="53.00" cy="388.50" r="1.1" fill="#111"/>
<circle cx="50.80" cy="400.00" r="1.1" fill="#111"/>
<circle cx="53.20" cy="399.50" r="1.1" fill="#111"/>
<circle cx="55.00" cy="400.30" r="1.1" fill="#111"/>
<circle cx="52.50" cy="401.50" r="1.1" fill="#111"/>
<circle cx="65.60" cy="392.70" r="1.1" fill="#111"/>
<circle cx="64.50" cy="404.50" r="1.1" fill="#111"/>
<circle cx="67.00" cy="405.50" r="1.1" fill="#111"/>
<circle cx="64.00" cy="407.00" r="1.1" fill="#111"/>
<circle cx="78.90" cy="373.10" r="1.1" fill="#111"/>
<circle cx="76.50" cy="385.80" r="1.1" fill="#111"/>
<circle cx="79.00" cy="385.80" r="1.1" fill="#111"/>
<circle cx="81.50" cy="385.80" r="1.1" fill="#111"/>
<circle cx="83.00" cy="386.00" r="1.1" fill="#111"/>
<circle cx="91.00" cy="382.00" r="1.1" fill="#111"/>
<circle cx="91.50" cy="392.00" r="1.1" fill="#111"/>
<circle cx="93.00" cy="401.50" r="1.1" fill="#111"/>
<circle cx="89.50" cy="403.50" r="1.1" fill="#111"/>
<circle cx="104.90" cy="329.00" r="1.1" fill="#111"/>
<circle cx="104.50" cy="361.00" r="1.1" fill="#111"/>
<circle cx="107.50" cy="359.00" r="1.1" fill="#111"/>
<circle cx="104.00" cy="365.00" r="1.1" fill="#111"/>
<circle cx="107.00" cy="368.00" r="1.1" fill="#111"/>
<circle cx="105.50" cy="376.00" r="1.1" fill="#111"/>
<circle cx="118.40" cy="339.40" r="1.1" fill="#111"/>
<circle cx="118.00" cy="370.00" r="1.1" fill="#111"/>
<circle cx="120.50" cy="368.00" r="1.1" fill="#111"/>
<circle cx="118.50" cy="396.00" r="1.1" fill="#111"/>
<circle cx="132.10" cy="335.30" r="1.1" fill="#111"/>
<circle cx="132.10" cy="345.30" r="1.1" fill="#111"/>
<circle cx="131.50" cy="373.50" r="1.1" fill="#111"/>
<circle cx="132.00" cy="381.50" r="1.1" fill="#111"/>
<circle cx="146.30" cy="358.00" r="1.1" fill="#111"/>
<circle cx="144.50" cy="362.00" r="1.1" fill="#111"/>
<circle cx="146.30" cy="380.00" r="1.1" fill="#111"/>
<circle cx="144.50" cy="366.00" r="1.1" fill="#111"/>
<circle cx="159.50" cy="398.30" r="1.1" fill="#111"/>
<circle cx="158.50" cy="405.50" r="1.1" fill="#111"/>
<circle cx="161.00" cy="406.50" r="1.1" fill="#111"/>
<circle cx="173.00" cy="401.20" r="1.1" fill="#111"/>
<circle cx="171.50" cy="406.50" r="1.1" fill="#111"/>
<circle cx="175.00" cy="407.00" r="1.1" fill="#111"/>
<circle cx="186.00" cy="404.50" r="1.1" fill="#111"/>
<circle cx="188.00" cy="406.50" r="1.1" fill="#111"/>
<circle cx="200.30" cy="405.50" r="1.1" fill="#111"/>
<circle cx="199.00" cy="408.00" r="1.1" fill="#111"/>
<circle cx="202.00" cy="408.00" r="1.1" fill="#111"/>
<g transform="translate(59.2,423.2) rotate(-45)"><text x="0" y="0.0" text-anchor="end" font-family="Liberation Sans" font-size="6.0" fill="#222" stroke="#222" stroke-width="0.1">circul.</text><text x="0" y="7.4" text-anchor="end" font-family="Liberation Sans" font-size="6.0" fill="#222" stroke="#222" stroke-width="0.1">monocytes</text></g>
<g transform="translate(84.5,423.2) rotate(-45)"><text x="0" y="0.0" text-anchor="end" font-family="Liberation Sans" font-size="6.0" fill="#222" stroke="#222" stroke-width="0.1">inflam.</text><text x="0" y="7.4" text-anchor="end" font-family="Liberation Sans" font-size="6.0" fill="#222" stroke="#222" stroke-width="0.1">monocytes</text></g>
<g transform="translate(113.6,423.5) rotate(-45)"><text x="0" y="0.0" text-anchor="end" font-family="Liberation Sans" font-size="6.0" fill="#222" stroke="#222" stroke-width="0.1">neutrophils</text></g>
<g transform="translate(139.4,422.4) rotate(-45)"><text x="0" y="0.0" text-anchor="end" font-family="Liberation Sans" font-size="6.0" fill="#222" stroke="#222" stroke-width="0.1">B cells</text></g>
<g transform="translate(165.4,422.4) rotate(-45)"><text x="0" y="0.0" text-anchor="end" font-family="Liberation Sans" font-size="6.0" fill="#222" stroke="#222" stroke-width="0.1">CD4<tspan font-size="0.75em" dy="-0.3em">+</tspan></text><text x="0" y="7.4" text-anchor="end" font-family="Liberation Sans" font-size="6.0" fill="#222" stroke="#222" stroke-width="0.1">T cells</text></g>
<g transform="translate(193.1,422.4) rotate(-45)"><text x="0" y="0.0" text-anchor="end" font-family="Liberation Sans" font-size="6.0" fill="#222" stroke="#222" stroke-width="0.1">CD8<tspan font-size="0.75em" dy="-0.3em">+</tspan></text><text x="0" y="7.4" text-anchor="end" font-family="Liberation Sans" font-size="6.0" fill="#222" stroke="#222" stroke-width="0.1">T cells</text></g>
<rect x="82.60" y="452.40" width="5.20" height="4.80" fill="#c8c8cc" />
<text x="90.60" y="457.10" font-family="Liberation Sans" font-size="6.2" text-anchor="start" font-weight="normal" font-style="italic" fill="#222"  stroke="#222" stroke-width="0.1">Gata2<tspan dy="-0.45em" font-size="0.55em">fl/+</tspan></text>
<rect x="119.30" y="452.40" width="5.20" height="4.80" fill="#c4701c" />
<text x="127.60" y="457.10" font-family="Liberation Sans" font-size="6.2" text-anchor="start" font-weight="normal" font-style="italic" fill="#222"  stroke="#222" stroke-width="0.1">vav-Cre;Gata2<tspan dy="-0.45em" font-size="0.55em">fl/+</tspan></text>
<text x="222.90" y="311.00" font-family="Liberation Sans" font-size="10.8" text-anchor="start" font-weight="bold" font-style="normal" fill="#111" stroke="#111" stroke-width="0.35">F</text>
<text x="279.00" y="320.60" font-family="Liberation Sans" font-size="8.4" text-anchor="middle" font-weight="normal" font-style="normal" fill="#222" textLength="25" lengthAdjust="spacingAndGlyphs" >Day 14</text>
<line x1="244.50" y1="328.20" x2="244.50" y2="409.40" stroke="#1a1a1a" stroke-width="1.0" />
<line x1="244.20" y1="409.50" x2="314.20" y2="409.50" stroke="#1a1a1a" stroke-width="1.0" />
<line x1="241.20" y1="409.50" x2="244.20" y2="409.50" stroke="#1a1a1a" stroke-width="1.0" />
<text x="0" y="0" transform="translate(238.90,411.56) scale(1.1,1)" font-family="Liberation Sans" font-size="6.0" text-anchor="end" font-weight="normal" font-style="normal" fill="#333" stroke="none">0</text>
<line x1="241.20" y1="393.50" x2="244.20" y2="393.50" stroke="#1a1a1a" stroke-width="1.0" />
<text x="0" y="0" transform="translate(238.90,395.51) scale(1.1,1)" font-family="Liberation Sans" font-size="6.0" text-anchor="end" font-weight="normal" font-style="normal" fill="#333" stroke="none">1</text>
<line x1="241.20" y1="377.50" x2="244.20" y2="377.50" stroke="#1a1a1a" stroke-width="1.0" />
<text x="0" y="0" transform="translate(238.90,379.46) scale(1.1,1)" font-family="Liberation Sans" font-size="6.0" text-anchor="end" font-weight="normal" font-style="normal" fill="#333" stroke="none">2</text>
<line x1="241.20" y1="361.50" x2="244.20" y2="361.50" stroke="#1a1a1a" stroke-width="1.0" />
<text x="0" y="0" transform="translate(238.90,363.41) scale(1.1,1)" font-family="Liberation Sans" font-size="6.0" text-anchor="end" font-weight="normal" font-style="normal" fill="#333" stroke="none">3</text>
<line x1="241.20" y1="345.50" x2="244.20" y2="345.50" stroke="#1a1a1a" stroke-width="1.0" />
<text x="0" y="0" transform="translate(238.90,347.36) scale(1.1,1)" font-family="Liberation Sans" font-size="6.0" text-anchor="end" font-weight="normal" font-style="normal" fill="#333" stroke="none">4</text>
<line x1="241.20" y1="329.50" x2="244.20" y2="329.50" stroke="#1a1a1a" stroke-width="1.0" />
<text x="0" y="0" transform="translate(238.90,331.31) scale(1.1,1)" font-family="Liberation Sans" font-size="6.0" text-anchor="end" font-weight="normal" font-style="normal" fill="#333" stroke="none">5</text>
<text x="0" y="0" transform="translate(226.0,363.6) rotate(-90) scale(1.0,1)" font-family="Liberation Sans" font-size="7.0" text-anchor="middle" font-weight="bold" fill="#222" textLength="42.7" lengthAdjust="spacingAndGlyphs" dy="0.35em">% SubG0 LSK cells</text>
<rect x="253.60" y="382.10" width="20.00" height="27.30" fill="#c8c8cc" />
<rect x="284.40" y="360.00" width="18.60" height="49.40" fill="#c4701c" />
<line x1="263.50" y1="409.40" x2="263.50" y2="411.40" stroke="#1a1a1a" stroke-width="1.0" />
<line x1="293.50" y1="409.40" x2="293.50" y2="411.40" stroke="#1a1a1a" stroke-width="1.0" />
<line x1="263.50" y1="375.60" x2="263.50" y2="382.10" stroke="#1a1a1a" stroke-width="1.0" />
<line x1="260.35" y1="375.50" x2="266.85" y2="375.50" stroke="#1a1a1a" stroke-width="1.0" />
<line x1="293.50" y1="354.60" x2="293.50" y2="360.00" stroke="#1a1a1a" stroke-width="1.0" />
<line x1="290.45" y1="354.50" x2="296.95" y2="354.50" stroke="#1a1a1a" stroke-width="1.0" />
<line x1="258.50" y1="340.50" x2="295.60" y2="340.50" stroke="#1a1a1a" stroke-width="1.0" />
<text x="277.10" y="340.10" font-family="Liberation Sans" font-size="5.5" text-anchor="middle" font-weight="normal" font-style="normal" fill="#111"  stroke="#111" stroke-width="0.1">*</text>
<circle cx="260.60" cy="369.20" r="1.3" fill="#111"/>
<circle cx="263.80" cy="369.20" r="1.3" fill="#111"/>
<circle cx="267.50" cy="369.00" r="1.3" fill="#111"/>
<circle cx="263.40" cy="382.60" r="1.3" fill="#111"/>
<circle cx="266.20" cy="382.40" r="1.3" fill="#111"/>
<circle cx="261.50" cy="406.00" r="1.3" fill="#111"/>
<circle cx="264.50" cy="405.00" r="1.3" fill="#111"/>
<circle cx="292.20" cy="346.80" r="1.3" fill="#111"/>
<circle cx="295.60" cy="348.00" r="1.3" fill="#111"/>
<circle cx="293.80" cy="352.10" r="1.3" fill="#111"/>
<circle cx="293.80" cy="374.50" r="1.3" fill="#111"/>
<circle cx="296.00" cy="374.50" r="1.3" fill="#111"/>
<circle cx="294.00" cy="386.70" r="1.3" fill="#111"/>
<text x="263.80" y="420.80" font-family="Liberation Sans" font-size="6.1" text-anchor="middle" font-weight="normal" font-style="italic" fill="#222"  stroke="#222" stroke-width="0.1">Gata2<tspan dy="-0.45em" font-size="0.55em">fl/+</tspan></text>
<text x="293.70" y="421.30" font-family="Liberation Sans" font-size="6.1" text-anchor="middle" font-weight="normal" font-style="italic" fill="#222"  stroke="#222" stroke-width="0.1">vav-cre;</text>
<text x="293.70" y="428.30" font-family="Liberation Sans" font-size="6.1" text-anchor="middle" font-weight="normal" font-style="italic" fill="#222"  stroke="#222" stroke-width="0.1">Gata2<tspan dy="-0.45em" font-size="0.55em">fl/+</tspan></text>
<text x="329.20" y="310.40" font-family="Liberation Sans" font-size="10.8" text-anchor="start" font-weight="bold" font-style="normal" fill="#111" stroke="#111" stroke-width="0.35">G</text>
<text x="431.80" y="320.40" font-family="Liberation Sans" font-size="8.4" text-anchor="middle" font-weight="normal" font-style="normal" fill="#222" textLength="24.5" lengthAdjust="spacingAndGlyphs" >Day 14</text>
<line x1="357.50" y1="326.50" x2="357.50" y2="409.40" stroke="#1a1a1a" stroke-width="1.0" />
<line x1="357.50" y1="409.50" x2="506.40" y2="409.50" stroke="#1a1a1a" stroke-width="1.0" />
<line x1="354.50" y1="409.50" x2="357.50" y2="409.50" stroke="#1a1a1a" stroke-width="1.0" />
<text x="0" y="0" transform="translate(352.10,411.56) scale(1.1,1)" font-family="Liberation Sans" font-size="6.0" text-anchor="end" font-weight="normal" font-style="normal" fill="#333" stroke="none">0</text>
<line x1="354.50" y1="393.50" x2="357.50" y2="393.50" stroke="#1a1a1a" stroke-width="1.0" />
<text x="0" y="0" transform="translate(352.10,395.52) scale(1.1,1)" font-family="Liberation Sans" font-size="6.0" text-anchor="end" font-weight="normal" font-style="normal" fill="#333" stroke="none">20</text>
<line x1="354.50" y1="377.50" x2="357.50" y2="377.50" stroke="#1a1a1a" stroke-width="1.0" />
<text x="0" y="0" transform="translate(352.10,379.48) scale(1.1,1)" font-family="Liberation Sans" font-size="6.0" text-anchor="end" font-weight="normal" font-style="normal" fill="#333" stroke="none">40</text>
<line x1="354.50" y1="361.50" x2="357.50" y2="361.50" stroke="#1a1a1a" stroke-width="1.0" />
<text x="0" y="0" transform="translate(352.10,363.44) scale(1.1,1)" font-family="Liberation Sans" font-size="6.0" text-anchor="end" font-weight="normal" font-style="normal" fill="#333" stroke="none">60</text>
<line x1="354.50" y1="345.50" x2="357.50" y2="345.50" stroke="#1a1a1a" stroke-width="1.0" />
<text x="0" y="0" transform="translate(352.10,347.40) scale(1.1,1)" font-family="Liberation Sans" font-size="6.0" text-anchor="end" font-weight="normal" font-style="normal" fill="#333" stroke="none">80</text>
<line x1="354.50" y1="329.50" x2="357.50" y2="329.50" stroke="#1a1a1a" stroke-width="1.0" />
<text x="0" y="0" transform="translate(352.10,331.36) scale(1.1,1)" font-family="Liberation Sans" font-size="6.0" text-anchor="end" font-weight="normal" font-style="normal" fill="#333" stroke="none">100</text>
<text x="0" y="0" transform="translate(333.8,367.2) rotate(-90) scale(1.0,1)" font-family="Liberation Sans" font-size="6.6" text-anchor="middle" font-weight="bold" fill="#222" textLength="33.5" lengthAdjust="spacingAndGlyphs" dy="0.35em">% of LSK cell</text>
<rect x="364.60" y="397.70" width="10.40" height="11.70" fill="#c8c8cc" />
<rect x="381.90" y="403.80" width="10.40" height="5.60" fill="#c4701c" />
<line x1="369.50" y1="409.40" x2="369.50" y2="411.40" stroke="#1a1a1a" stroke-width="1.0" />
<line x1="387.50" y1="409.40" x2="387.50" y2="411.40" stroke="#1a1a1a" stroke-width="1.0" />
<line x1="369.50" y1="393.10" x2="369.50" y2="401.00" stroke="#1a1a1a" stroke-width="1.0" />
<line x1="367.55" y1="393.50" x2="372.05" y2="393.50" stroke="#1a1a1a" stroke-width="1.0" />
<line x1="367.55" y1="400.50" x2="372.05" y2="400.50" stroke="#1a1a1a" stroke-width="1.0" />
<line x1="387.50" y1="399.60" x2="387.50" y2="407.00" stroke="#1a1a1a" stroke-width="1.0" />
<line x1="384.85" y1="399.50" x2="389.35" y2="399.50" stroke="#1a1a1a" stroke-width="1.0" />
<line x1="384.85" y1="406.50" x2="389.35" y2="406.50" stroke="#1a1a1a" stroke-width="1.0" />
<line x1="364.10" y1="415.50" x2="392.80" y2="415.50" stroke="#3a3a3a" stroke-width="1.0" />
<text x="378.45" y="424.20" font-family="Liberation Sans" font-size="6.3" text-anchor="middle" font-weight="normal" font-style="normal" fill="#222"  stroke="#222" stroke-width="0.1">G0</text>
<rect x="400.00" y="358.00" width="10.80" height="51.40" fill="#c8c8cc" />
<rect x="417.90" y="356.80" width="10.60" height="52.60" fill="#c4701c" />
<line x1="405.50" y1="409.40" x2="405.50" y2="411.40" stroke="#1a1a1a" stroke-width="1.0" />
<line x1="423.50" y1="409.40" x2="423.50" y2="411.40" stroke="#1a1a1a" stroke-width="1.0" />
<line x1="405.50" y1="351.80" x2="405.50" y2="360.00" stroke="#1a1a1a" stroke-width="1.0" />
<line x1="403.15" y1="351.50" x2="407.65" y2="351.50" stroke="#1a1a1a" stroke-width="1.0" />
<line x1="403.15" y1="360.50" x2="407.65" y2="360.50" stroke="#1a1a1a" stroke-width="1.0" />
<line x1="423.50" y1="346.20" x2="423.50" y2="368.00" stroke="#1a1a1a" stroke-width="1.0" />
<line x1="420.95" y1="346.50" x2="425.45" y2="346.50" stroke="#1a1a1a" stroke-width="1.0" />
<line x1="420.95" y1="368.50" x2="425.45" y2="368.50" stroke="#1a1a1a" stroke-width="1.0" />
<line x1="399.50" y1="415.50" x2="429.00" y2="415.50" stroke="#3a3a3a" stroke-width="1.0" />
<text x="414.25" y="424.20" font-family="Liberation Sans" font-size="6.3" text-anchor="middle" font-weight="normal" font-style="normal" fill="#222"  stroke="#222" stroke-width="0.1">G1</text>
<rect x="435.70" y="400.20" width="10.10" height="9.20" fill="#c8c8cc" />
<rect x="453.40" y="398.20" width="10.40" height="11.20" fill="#c4701c" />
<line x1="440.50" y1="409.40" x2="440.50" y2="411.40" stroke="#1a1a1a" stroke-width="1.0" />
<line x1="458.50" y1="409.40" x2="458.50" y2="411.40" stroke="#1a1a1a" stroke-width="1.0" />
<line x1="440.50" y1="398.50" x2="440.50" y2="401.50" stroke="#1a1a1a" stroke-width="1.0" />
<line x1="438.50" y1="398.50" x2="443.00" y2="398.50" stroke="#1a1a1a" stroke-width="1.0" />
<line x1="438.50" y1="401.50" x2="443.00" y2="401.50" stroke="#1a1a1a" stroke-width="1.0" />
<line x1="458.50" y1="389.80" x2="458.50" y2="401.00" stroke="#1a1a1a" stroke-width="1.0" />
<line x1="456.35" y1="389.50" x2="460.85" y2="389.50" stroke="#1a1a1a" stroke-width="1.0" />
<line x1="456.35" y1="400.50" x2="460.85" y2="400.50" stroke="#1a1a1a" stroke-width="1.0" />
<line x1="435.20" y1="415.50" x2="464.30" y2="415.50" stroke="#3a3a3a" stroke-width="1.0" />
<text x="449.75" y="424.20" font-family="Liberation Sans" font-size="6.3" text-anchor="middle" font-weight="normal" font-style="normal" fill="#222"  stroke="#222" stroke-width="0.1">S</text>
<rect x="471.20" y="401.20" width="9.80" height="8.20" fill="#c8c8cc" />
<rect x="488.70" y="400.00" width="10.80" height="9.40" fill="#c4701c" />
<line x1="476.50" y1="409.40" x2="476.50" y2="411.40" stroke="#1a1a1a" stroke-width="1.0" />
<line x1="494.50" y1="409.40" x2="494.50" y2="411.40" stroke="#1a1a1a" stroke-width="1.0" />
<line x1="476.50" y1="400.50" x2="476.50" y2="402.00" stroke="#1a1a1a" stroke-width="1.0" />
<line x1="473.85" y1="400.50" x2="478.35" y2="400.50" stroke="#1a1a1a" stroke-width="1.0" />
<line x1="473.85" y1="402.50" x2="478.35" y2="402.50" stroke="#1a1a1a" stroke-width="1.0" />
<line x1="494.50" y1="392.30" x2="494.50" y2="404.00" stroke="#1a1a1a" stroke-width="1.0" />
<line x1="491.85" y1="392.50" x2="496.35" y2="392.50" stroke="#1a1a1a" stroke-width="1.0" />
<line x1="491.85" y1="404.50" x2="496.35" y2="404.50" stroke="#1a1a1a" stroke-width="1.0" />
<line x1="470.70" y1="415.50" x2="500.00" y2="415.50" stroke="#3a3a3a" stroke-width="1.0" />
<text x="485.35" y="424.20" font-family="Liberation Sans" font-size="6.3" text-anchor="middle" font-weight="normal" font-style="normal" fill="#222"  stroke="#222" stroke-width="0.1">G2:M</text>
<circle cx="367.30" cy="401.30" r="1.7" fill="#111"/>
<circle cx="372.20" cy="397.20" r="1.7" fill="#111"/>
<circle cx="369.40" cy="393.30" r="1.7" fill="#111"/>
<circle cx="386.90" cy="398.80" r="1.7" fill="#111"/>
<circle cx="384.40" cy="404.50" r="1.7" fill="#111"/>
<circle cx="389.30" cy="402.10" r="1.7" fill="#111"/>
<circle cx="387.70" cy="406.20" r="1.7" fill="#111"/>
<circle cx="402.40" cy="360.40" r="1.7" fill="#111"/>
<circle cx="407.30" cy="358.80" r="1.7" fill="#111"/>
<circle cx="404.80" cy="352.30" r="1.7" fill="#111"/>
<circle cx="426.10" cy="346.20" r="1.7" fill="#111"/>
<circle cx="419.50" cy="350.10" r="1.7" fill="#111"/>
<circle cx="422.80" cy="350.10" r="1.7" fill="#111"/>
<circle cx="420.40" cy="368.10" r="1.7" fill="#111"/>
<circle cx="424.90" cy="368.10" r="1.7" fill="#111"/>
<circle cx="436.90" cy="398.20" r="1.7" fill="#111"/>
<circle cx="440.80" cy="401.50" r="1.7" fill="#111"/>
<circle cx="444.20" cy="401.50" r="1.7" fill="#111"/>
<circle cx="456.20" cy="389.70" r="1.7" fill="#111"/>
<circle cx="460.80" cy="391.80" r="1.7" fill="#111"/>
<circle cx="456.30" cy="400.80" r="1.7" fill="#111"/>
<circle cx="459.80" cy="401.20" r="1.7" fill="#111"/>
<circle cx="462.80" cy="400.60" r="1.7" fill="#111"/>
<circle cx="472.80" cy="400.80" r="1.7" fill="#111"/>
<circle cx="476.20" cy="402.80" r="1.7" fill="#111"/>
<circle cx="479.50" cy="401.20" r="1.7" fill="#111"/>
<circle cx="491.50" cy="389.50" r="1.7" fill="#111"/>
<circle cx="496.90" cy="394.60" r="1.7" fill="#111"/>
<circle cx="491.50" cy="403.20" r="1.7" fill="#111"/>
<circle cx="495.00" cy="404.50" r="1.7" fill="#111"/>
<circle cx="498.80" cy="404.00" r="1.7" fill="#111"/>
<rect x="387.10" y="429.80" width="5.20" height="5.20" fill="#c8c8cc" />
<text x="396.20" y="434.70" font-family="Liberation Sans" font-size="6.1" text-anchor="start" font-weight="normal" font-style="italic" fill="#222"  stroke="#222" stroke-width="0.1">Gata2<tspan dy="-0.45em" font-size="0.55em">fl/+</tspan></text>
<rect x="424.40" y="429.80" width="5.00" height="5.20" fill="#c4701c" />
<text x="432.70" y="434.70" font-family="Liberation Sans" font-size="6.1" text-anchor="start" font-weight="normal" font-style="italic" fill="#222"  stroke="#222" stroke-width="0.1">vav-Cre;Gata2<tspan dy="-0.45em" font-size="0.55em">fl/+</tspan></text>
<text x="82.70" y="482.30" font-family="Liberation Sans" font-size="10.8" text-anchor="start" font-weight="bold" font-style="normal" fill="#111" stroke="#111" stroke-width="0.35">H</text>
<text x="145.00" y="492.10" font-family="Liberation Sans" font-size="8.4" text-anchor="middle" font-weight="normal" font-style="normal" fill="#222" textLength="24" lengthAdjust="spacingAndGlyphs" >Day 14</text>
<line x1="105.50" y1="498.50" x2="105.50" y2="581.90" stroke="#1a1a1a" stroke-width="1.0" />
<line x1="105.80" y1="581.50" x2="184.00" y2="581.50" stroke="#1a1a1a" stroke-width="1.0" />
<line x1="102.60" y1="581.50" x2="105.80" y2="581.50" stroke="#1a1a1a" stroke-width="1.0" />
<text x="0" y="0" transform="translate(100.20,584.06) scale(1.1,1)" font-family="Liberation Sans" font-size="6.0" text-anchor="end" font-weight="normal" font-style="normal" fill="#333" stroke="none">0</text>
<line x1="102.60" y1="561.50" x2="105.80" y2="561.50" stroke="#1a1a1a" stroke-width="1.0" />
<text x="0" y="0" transform="translate(100.20,563.73) scale(1.1,1)" font-family="Liberation Sans" font-size="6.0" text-anchor="end" font-weight="normal" font-style="normal" fill="#333" stroke="none">10</text>
<line x1="102.60" y1="541.50" x2="105.80" y2="541.50" stroke="#1a1a1a" stroke-width="1.0" />
<text x="0" y="0" transform="translate(100.20,543.40) scale(1.1,1)" font-family="Liberation Sans" font-size="6.0" text-anchor="end" font-weight="normal" font-style="normal" fill="#333" stroke="none">20</text>
<line x1="102.60" y1="520.50" x2="105.80" y2="520.50" stroke="#1a1a1a" stroke-width="1.0" />
<text x="0" y="0" transform="translate(100.20,523.07) scale(1.1,1)" font-family="Liberation Sans" font-size="6.0" text-anchor="end" font-weight="normal" font-style="normal" fill="#333" stroke="none">30</text>
<line x1="102.60" y1="500.50" x2="105.80" y2="500.50" stroke="#1a1a1a" stroke-width="1.0" />
<text x="0" y="0" transform="translate(100.20,502.74) scale(1.1,1)" font-family="Liberation Sans" font-size="6.0" text-anchor="end" font-weight="normal" font-style="normal" fill="#333" stroke="none">40</text>
<text x="0" y="0" transform="translate(84.7,540.1) rotate(-90) scale(1.0,1)" font-family="Liberation Sans" font-size="7.3" text-anchor="middle" font-weight="bold" fill="#222" textLength="36.2" lengthAdjust="spacingAndGlyphs" dy="0.35em">CFU/500 cells</text>
<rect x="117.00" y="581.09" width="21.80" height="0.81" fill="#c9c9c9" />
<rect x="117.00" y="554.05" width="21.80" height="27.04" fill="#8c87c0" />
<rect x="117.00" y="544.90" width="21.80" height="9.15" fill="#d4187e" />
<rect x="117.00" y="526.40" width="21.80" height="18.50" fill="#f4921e" />
<rect x="117.00" y="511.15" width="21.80" height="15.25" fill="#3da543" />
<rect x="150.90" y="581.29" width="22.20" height="0.61" fill="#c9c9c9" />
<rect x="150.90" y="573.77" width="22.20" height="7.52" fill="#8c87c0" />
<rect x="150.90" y="570.11" width="22.20" height="3.66" fill="#d4187e" />
<rect x="150.90" y="562.38" width="22.20" height="7.73" fill="#f4921e" />
<rect x="150.90" y="553.44" width="22.20" height="8.95" fill="#3da543" />
<line x1="127.50" y1="581.90" x2="127.50" y2="583.90" stroke="#1a1a1a" stroke-width="1.0" />
<line x1="162.50" y1="581.90" x2="162.50" y2="583.90" stroke="#1a1a1a" stroke-width="1.0" />
<line x1="122.65" y1="506.50" x2="133.15" y2="506.50" stroke="#1a1a1a" stroke-width="1.0" />
<line x1="127.50" y1="506.60" x2="127.50" y2="511.40" stroke="#1a1a1a" stroke-width="1.0" />
<line x1="122.65" y1="522.50" x2="133.15" y2="522.50" stroke="#1a1a1a" stroke-width="1.0" />
<line x1="127.50" y1="522.30" x2="127.50" y2="526.00" stroke="#1a1a1a" stroke-width="1.0" />
<line x1="122.65" y1="539.50" x2="133.15" y2="539.50" stroke="#1a1a1a" stroke-width="1.0" />
<line x1="127.50" y1="539.60" x2="127.50" y2="542.50" stroke="#1a1a1a" stroke-width="1.0" />
<line x1="122.65" y1="547.50" x2="133.15" y2="547.50" stroke="#1a1a1a" stroke-width="1.0" />
<line x1="127.50" y1="547.70" x2="127.50" y2="544.50" stroke="#1a1a1a" stroke-width="1.0" />
<line x1="122.65" y1="580.50" x2="133.15" y2="580.50" stroke="#1a1a1a" stroke-width="1.0" />
<line x1="127.50" y1="580.00" x2="127.50" y2="581.00" stroke="#1a1a1a" stroke-width="1.0" />
<line x1="156.75" y1="548.50" x2="167.25" y2="548.50" stroke="#1a1a1a" stroke-width="1.0" />
<line x1="162.50" y1="548.90" x2="162.50" y2="553.30" stroke="#1a1a1a" stroke-width="1.0" />
<line x1="156.75" y1="558.50" x2="167.25" y2="558.50" stroke="#1a1a1a" stroke-width="1.0" />
<line x1="162.50" y1="558.50" x2="162.50" y2="561.50" stroke="#1a1a1a" stroke-width="1.0" />
<line x1="156.75" y1="568.50" x2="167.25" y2="568.50" stroke="#1a1a1a" stroke-width="1.0" />
<line x1="162.50" y1="568.00" x2="162.50" y2="570.00" stroke="#1a1a1a" stroke-width="1.0" />
<line x1="156.75" y1="571.50" x2="167.25" y2="571.50" stroke="#1a1a1a" stroke-width="1.0" />
<line x1="162.50" y1="571.60" x2="162.50" y2="573.50" stroke="#1a1a1a" stroke-width="1.0" />
<line x1="156.75" y1="581.50" x2="167.25" y2="581.50" stroke="#1a1a1a" stroke-width="1.0" />
<line x1="162.50" y1="581.20" x2="162.50" y2="581.90" stroke="#1a1a1a" stroke-width="1.0" />
<line x1="123.80" y1="502.50" x2="164.70" y2="502.50" stroke="#1a1a1a" stroke-width="1.0" />
<text x="144.50" y="502.00" font-family="Liberation Sans" font-size="5.5" text-anchor="middle" font-weight="normal" font-style="normal" fill="#111"  stroke="#111" stroke-width="0.1">*</text>
<rect x="187.70" y="498.20" width="5.70" height="5.40" fill="#3da543" />
<text x="196.90" y="503.00" font-family="Liberation Sans" font-size="6.0" text-anchor="start" font-weight="normal" font-style="normal" fill="#222"  stroke="#222" stroke-width="0.1">BFU-E</text>
<rect x="187.70" y="507.70" width="5.70" height="5.40" fill="#f4921e" />
<text x="196.90" y="512.50" font-family="Liberation Sans" font-size="6.0" text-anchor="start" font-weight="normal" font-style="normal" fill="#222"  stroke="#222" stroke-width="0.1">CFU-G</text>
<rect x="187.70" y="517.40" width="5.70" height="5.40" fill="#d4187e" />
<text x="196.90" y="522.20" font-family="Liberation Sans" font-size="6.0" text-anchor="start" font-weight="normal" font-style="normal" fill="#222"  stroke="#222" stroke-width="0.1">CFU-M</text>
<rect x="187.70" y="527.00" width="5.70" height="5.40" fill="#8c87c0" />
<text x="196.90" y="531.80" font-family="Liberation Sans" font-size="6.0" text-anchor="start" font-weight="normal" font-style="normal" fill="#222"  stroke="#222" stroke-width="0.1">CFU-GM</text>
<rect x="187.70" y="536.40" width="5.70" height="5.40" fill="#c9c9c9" />
<text x="196.90" y="541.20" font-family="Liberation Sans" font-size="6.0" text-anchor="start" font-weight="normal" font-style="normal" fill="#222"  stroke="#222" stroke-width="0.1">CFU-GEMM</text>
<text x="127.80" y="593.00" font-family="Liberation Sans" font-size="5.9" text-anchor="middle" font-weight="normal" font-style="italic" fill="#222"  stroke="#222" stroke-width="0.1">Gata2<tspan dy="-0.45em" font-size="0.55em">fl/+</tspan></text>
<text x="162.30" y="593.30" font-family="Liberation Sans" font-size="5.9" text-anchor="middle" font-weight="normal" font-style="italic" fill="#222"  stroke="#222" stroke-width="0.1">vav-cre;</text>
<text x="162.30" y="600.20" font-family="Liberation Sans" font-size="5.9" text-anchor="middle" font-weight="normal" font-style="italic" fill="#222"  stroke="#222" stroke-width="0.1">Gata2<tspan dy="-0.45em" font-size="0.55em">fl/+</tspan></text>
<text x="244.60" y="482.20" font-family="Liberation Sans" font-size="10.8" text-anchor="start" font-weight="bold" font-style="normal" fill="#111" stroke="#111" stroke-width="0.35">I</text>
<text x="308.30" y="492.30" font-family="Liberation Sans" font-size="8.5" text-anchor="start" font-weight="normal" font-style="normal" fill="#222" textLength="107.2" lengthAdjust="spacingAndGlyphs" >Cell composition 42 days (BM)</text>
<line x1="283.50" y1="498.80" x2="283.50" y2="582.20" stroke="#1a1a1a" stroke-width="1.0" />
<line x1="283.90" y1="582.50" x2="439.60" y2="582.50" stroke="#1a1a1a" stroke-width="1.0" />
<line x1="280.90" y1="500.50" x2="283.90" y2="500.50" stroke="#1a1a1a" stroke-width="1.0" />
<text x="0" y="0" transform="translate(278.50,502.21) scale(1.18,1)" font-family="Liberation Sans" font-size="5.3" text-anchor="end" font-weight="normal" font-style="normal" fill="#333" stroke="none">3.0×10<tspan dy="-0.45em" font-size="0.7em">5</tspan></text>
<line x1="280.90" y1="516.50" x2="283.90" y2="516.50" stroke="#1a1a1a" stroke-width="1.0" />
<text x="0" y="0" transform="translate(278.50,518.81) scale(1.18,1)" font-family="Liberation Sans" font-size="5.3" text-anchor="end" font-weight="normal" font-style="normal" fill="#333" stroke="none">2.4×10<tspan dy="-0.45em" font-size="0.7em">5</tspan></text>
<line x1="280.90" y1="533.50" x2="283.90" y2="533.50" stroke="#1a1a1a" stroke-width="1.0" />
<text x="0" y="0" transform="translate(278.50,535.31) scale(1.18,1)" font-family="Liberation Sans" font-size="5.3" text-anchor="end" font-weight="normal" font-style="normal" fill="#333" stroke="none">1.8×10<tspan dy="-0.45em" font-size="0.7em">5</tspan></text>
<line x1="280.90" y1="549.50" x2="283.90" y2="549.50" stroke="#1a1a1a" stroke-width="1.0" />
<text x="0" y="0" transform="translate(278.50,551.81) scale(1.18,1)" font-family="Liberation Sans" font-size="5.3" text-anchor="end" font-weight="normal" font-style="normal" fill="#333" stroke="none">1.2×10<tspan dy="-0.45em" font-size="0.7em">5</tspan></text>
<line x1="280.90" y1="566.50" x2="283.90" y2="566.50" stroke="#1a1a1a" stroke-width="1.0" />
<text x="0" y="0" transform="translate(278.50,568.11) scale(1.18,1)" font-family="Liberation Sans" font-size="5.3" text-anchor="end" font-weight="normal" font-style="normal" fill="#333" stroke="none">6.0×10<tspan dy="-0.45em" font-size="0.7em">4</tspan></text>
<line x1="280.90" y1="582.50" x2="283.90" y2="582.50" stroke="#1a1a1a" stroke-width="1.0" />
<text x="0" y="0" transform="translate(278.50,584.11) scale(1.18,1)" font-family="Liberation Sans" font-size="5.3" text-anchor="end" font-weight="normal" font-style="normal" fill="#333" stroke="none">0</text>
<text x="0" y="0" transform="translate(249.3,540.1) rotate(-90) scale(1.0,1)" font-family="Liberation Sans" font-size="7.0" text-anchor="middle" font-weight="bold" fill="#222" textLength="52" lengthAdjust="spacingAndGlyphs" dy="0.35em">Absolute cell number</text>
<rect x="289.00" y="567.40" width="7.70" height="14.80" fill="#c7c9d3" />
<rect x="300.70" y="553.60" width="7.50" height="28.60" fill="#c4701c" />
<line x1="292.50" y1="582.20" x2="292.50" y2="584.00" stroke="#1a1a1a" stroke-width="1.0" />
<line x1="304.50" y1="582.20" x2="304.50" y2="584.00" stroke="#1a1a1a" stroke-width="1.0" />
<line x1="292.50" y1="563.80" x2="292.50" y2="571.00" stroke="#1a1a1a" stroke-width="1.0" />
<line x1="291.10" y1="563.50" x2="294.60" y2="563.50" stroke="#1a1a1a" stroke-width="1.0" />
<line x1="291.10" y1="570.50" x2="294.60" y2="570.50" stroke="#1a1a1a" stroke-width="1.0" />
<line x1="304.50" y1="545.70" x2="304.50" y2="562.00" stroke="#1a1a1a" stroke-width="1.0" />
<line x1="302.70" y1="545.50" x2="306.20" y2="545.50" stroke="#1a1a1a" stroke-width="1.0" />
<line x1="302.70" y1="562.50" x2="306.20" y2="562.50" stroke="#1a1a1a" stroke-width="1.0" />
<line x1="289.00" y1="588.00" x2="308.20" y2="588.00" stroke="#666" stroke-width="1.3" />
<text x="298.60" y="596.00" font-family="Liberation Sans" font-size="6.1" text-anchor="middle" font-weight="normal" font-style="normal" fill="#222"  stroke="#222" stroke-width="0.1">LSK</text>
<rect x="320.00" y="579.60" width="7.20" height="2.60" fill="#c7c9d3" />
<rect x="331.30" y="578.30" width="7.30" height="3.90" fill="#c4701c" />
<line x1="323.50" y1="582.20" x2="323.50" y2="584.00" stroke="#1a1a1a" stroke-width="1.0" />
<line x1="334.50" y1="582.20" x2="334.50" y2="584.00" stroke="#1a1a1a" stroke-width="1.0" />
<line x1="323.50" y1="578.50" x2="323.50" y2="581.00" stroke="#1a1a1a" stroke-width="1.0" />
<line x1="321.85" y1="578.50" x2="325.35" y2="578.50" stroke="#1a1a1a" stroke-width="1.0" />
<line x1="321.85" y1="580.50" x2="325.35" y2="580.50" stroke="#1a1a1a" stroke-width="1.0" />
<line x1="334.50" y1="576.50" x2="334.50" y2="580.00" stroke="#1a1a1a" stroke-width="1.0" />
<line x1="333.20" y1="576.50" x2="336.70" y2="576.50" stroke="#1a1a1a" stroke-width="1.0" />
<line x1="333.20" y1="580.50" x2="336.70" y2="580.50" stroke="#1a1a1a" stroke-width="1.0" />
<line x1="320.00" y1="588.00" x2="338.60" y2="588.00" stroke="#666" stroke-width="1.3" />
<text x="329.30" y="596.00" font-family="Liberation Sans" font-size="6.1" text-anchor="middle" font-weight="normal" font-style="normal" fill="#222"  stroke="#222" stroke-width="0.1">HSC</text>
<rect x="350.20" y="574.40" width="7.80" height="7.80" fill="#c7c9d3" />
<rect x="362.20" y="571.30" width="7.40" height="10.90" fill="#c4701c" />
<line x1="354.50" y1="582.20" x2="354.50" y2="584.00" stroke="#1a1a1a" stroke-width="1.0" />
<line x1="365.50" y1="582.20" x2="365.50" y2="584.00" stroke="#1a1a1a" stroke-width="1.0" />
<line x1="354.50" y1="573.00" x2="354.50" y2="576.00" stroke="#1a1a1a" stroke-width="1.0" />
<line x1="352.35" y1="572.50" x2="355.85" y2="572.50" stroke="#1a1a1a" stroke-width="1.0" />
<line x1="352.35" y1="576.50" x2="355.85" y2="576.50" stroke="#1a1a1a" stroke-width="1.0" />
<line x1="365.50" y1="566.00" x2="365.50" y2="576.00" stroke="#1a1a1a" stroke-width="1.0" />
<line x1="364.15" y1="566.50" x2="367.65" y2="566.50" stroke="#1a1a1a" stroke-width="1.0" />
<line x1="364.15" y1="576.50" x2="367.65" y2="576.50" stroke="#1a1a1a" stroke-width="1.0" />
<line x1="350.20" y1="588.00" x2="369.60" y2="588.00" stroke="#666" stroke-width="1.3" />
<text x="359.90" y="596.00" font-family="Liberation Sans" font-size="6.1" text-anchor="middle" font-weight="normal" font-style="normal" fill="#222"  stroke="#222" stroke-width="0.1">MPP</text>
<rect x="381.30" y="576.10" width="7.40" height="6.10" fill="#c7c9d3" />
<rect x="392.90" y="572.30" width="7.40" height="9.90" fill="#c4701c" />
<line x1="384.50" y1="582.20" x2="384.50" y2="584.00" stroke="#1a1a1a" stroke-width="1.0" />
<line x1="396.50" y1="582.20" x2="396.50" y2="584.00" stroke="#1a1a1a" stroke-width="1.0" />
<line x1="384.50" y1="575.00" x2="384.50" y2="577.50" stroke="#1a1a1a" stroke-width="1.0" />
<line x1="383.25" y1="574.50" x2="386.75" y2="574.50" stroke="#1a1a1a" stroke-width="1.0" />
<line x1="383.25" y1="577.50" x2="386.75" y2="577.50" stroke="#1a1a1a" stroke-width="1.0" />
<line x1="396.50" y1="567.50" x2="396.50" y2="577.00" stroke="#1a1a1a" stroke-width="1.0" />
<line x1="394.85" y1="567.50" x2="398.35" y2="567.50" stroke="#1a1a1a" stroke-width="1.0" />
<line x1="394.85" y1="576.50" x2="398.35" y2="576.50" stroke="#1a1a1a" stroke-width="1.0" />
<line x1="381.30" y1="588.00" x2="400.30" y2="588.00" stroke="#666" stroke-width="1.3" />
<text x="390.80" y="596.00" font-family="Liberation Sans" font-size="6.1" text-anchor="middle" font-weight="normal" font-style="normal" fill="#222"  stroke="#222" stroke-width="0.1">HPC1</text>
<rect x="412.00" y="579.00" width="7.80" height="3.20" fill="#c7c9d3" />
<rect x="423.60" y="576.00" width="7.40" height="6.20" fill="#c4701c" />
<line x1="415.50" y1="582.20" x2="415.50" y2="584.00" stroke="#1a1a1a" stroke-width="1.0" />
<line x1="427.50" y1="582.20" x2="427.50" y2="584.00" stroke="#1a1a1a" stroke-width="1.0" />
<line x1="415.50" y1="578.00" x2="415.50" y2="580.00" stroke="#1a1a1a" stroke-width="1.0" />
<line x1="414.15" y1="578.50" x2="417.65" y2="578.50" stroke="#1a1a1a" stroke-width="1.0" />
<line x1="414.15" y1="580.50" x2="417.65" y2="580.50" stroke="#1a1a1a" stroke-width="1.0" />
<line x1="427.50" y1="574.00" x2="427.50" y2="578.00" stroke="#1a1a1a" stroke-width="1.0" />
<line x1="425.55" y1="574.50" x2="429.05" y2="574.50" stroke="#1a1a1a" stroke-width="1.0" />
<line x1="425.55" y1="578.50" x2="429.05" y2="578.50" stroke="#1a1a1a" stroke-width="1.0" />
<line x1="412.00" y1="588.00" x2="431.00" y2="588.00" stroke="#666" stroke-width="1.3" />
<text x="421.50" y="596.00" font-family="Liberation Sans" font-size="6.1" text-anchor="middle" font-weight="normal" font-style="normal" fill="#222"  stroke="#222" stroke-width="0.1">HPC2</text>
<circle cx="290.40" cy="563.20" r="1.6" fill="#111"/>
<circle cx="295.00" cy="565.20" r="1.6" fill="#111"/>
<circle cx="294.00" cy="571.70" r="1.6" fill="#111"/>
<circle cx="304.20" cy="508.60" r="1.6" fill="#111"/>
<circle cx="304.20" cy="537.80" r="1.6" fill="#111"/>
<circle cx="303.00" cy="558.90" r="1.6" fill="#111"/>
<circle cx="307.00" cy="561.00" r="1.6" fill="#111"/>
<circle cx="302.00" cy="565.00" r="1.6" fill="#111"/>
<circle cx="306.00" cy="567.00" r="1.6" fill="#111"/>
<circle cx="304.00" cy="571.00" r="1.6" fill="#111"/>
<circle cx="307.50" cy="569.50" r="1.6" fill="#111"/>
<circle cx="322.00" cy="580.30" r="1.6" fill="#111"/>
<circle cx="324.50" cy="580.50" r="1.6" fill="#111"/>
<circle cx="326.00" cy="580.00" r="1.6" fill="#111"/>
<circle cx="333.00" cy="580.20" r="1.6" fill="#111"/>
<circle cx="335.00" cy="578.50" r="1.6" fill="#111"/>
<circle cx="337.00" cy="580.00" r="1.6" fill="#111"/>
<circle cx="334.00" cy="581.00" r="1.6" fill="#111"/>
<circle cx="352.00" cy="578.50" r="1.6" fill="#111"/>
<circle cx="355.00" cy="577.00" r="1.6" fill="#111"/>
<circle cx="356.00" cy="580.00" r="1.6" fill="#111"/>
<circle cx="365.80" cy="548.60" r="1.6" fill="#111"/>
<circle cx="364.00" cy="566.00" r="1.6" fill="#111"/>
<circle cx="365.00" cy="574.00" r="1.6" fill="#111"/>
<circle cx="367.50" cy="577.00" r="1.6" fill="#111"/>
<circle cx="363.50" cy="577.50" r="1.6" fill="#111"/>
<circle cx="366.00" cy="580.00" r="1.6" fill="#111"/>
<circle cx="383.00" cy="578.00" r="1.6" fill="#111"/>
<circle cx="386.00" cy="578.00" r="1.6" fill="#111"/>
<circle cx="384.50" cy="580.50" r="1.6" fill="#111"/>
<circle cx="396.50" cy="557.90" r="1.6" fill="#111"/>
<circle cx="396.50" cy="563.40" r="1.6" fill="#111"/>
<circle cx="394.00" cy="575.00" r="1.6" fill="#111"/>
<circle cx="398.00" cy="576.00" r="1.6" fill="#111"/>
<circle cx="396.00" cy="579.50" r="1.6" fill="#111"/>
<circle cx="414.00" cy="579.50" r="1.6" fill="#111"/>
<circle cx="417.00" cy="580.00" r="1.6" fill="#111"/>
<circle cx="427.20" cy="571.90" r="1.6" fill="#111"/>
<circle cx="425.00" cy="577.50" r="1.6" fill="#111"/>
<circle cx="429.00" cy="578.00" r="1.6" fill="#111"/>
<circle cx="427.00" cy="580.50" r="1.6" fill="#111"/>
<rect x="442.80" y="500.80" width="5.20" height="5.20" fill="#c7c9d3" />
<text x="451.50" y="505.60" font-family="Liberation Sans" font-size="5.9" text-anchor="start" font-weight="normal" font-style="normal" fill="#222"  stroke="#222" stroke-width="0.1">Gata2<tspan dy="-0.45em" font-size="0.55em">fl/+</tspan></text>
<rect x="442.80" y="510.90" width="5.20" height="5.30" fill="#c4701c" />
<text x="451.50" y="515.70" font-family="Liberation Sans" font-size="5.9" text-anchor="start" font-weight="normal" font-style="normal" fill="#222"  stroke="#222" stroke-width="0.1">vav-Cre;Gata2<tspan dy="-0.45em" font-size="0.55em">fl/+</tspan></text>
<rect x="0.5" y="0.5" width="519" height="607" fill="none" stroke="#5e5e5e" stroke-width="1.1"/>
</svg>
</body></html>
